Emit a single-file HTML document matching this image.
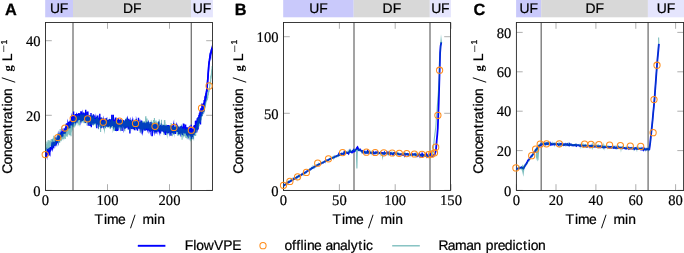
<!DOCTYPE html>
<html><head><meta charset="utf-8"><title>Figure</title>
<style>html,body{margin:0;padding:0;background:#fff}svg{display:block}.s{stroke:#000;stroke-width:.22px}</style></head>
<body>
<svg width="684" height="253" viewBox="0 0 684 253">
<rect width="684" height="253" fill="#fff"/>
<g text-rendering="geometricPrecision">
<defs>
<clipPath id="cA"><rect x="45.5" y="22.5" width="167" height="168"/></clipPath>
</defs>
<rect x="45.2" y="0" width="27.799999999999997" height="17.3" fill="#c9c9fb"/>
<text class="s" x="50.0 59.8" y="13.2" font-size="13.9" font-family="Liberation Sans, sans-serif" fill="#000">UF</text>
<rect x="73" y="0" width="118" height="17.3" fill="#d8d8d8"/>
<text class="s" x="122.9 133.0" y="13.2" font-size="13.9" font-family="Liberation Sans, sans-serif" fill="#000">DF</text>
<rect x="191" y="0" width="21.900000000000006" height="17.3" fill="#e5e5fd"/>
<text class="s" x="192.8 202.7" y="13.2" font-size="13.9" font-family="Liberation Sans, sans-serif" fill="#000">UF</text>
<text x="4.9" y="15" font-size="16.3" font-weight="bold" font-family="Liberation Sans, sans-serif" fill="#000" stroke="#000" stroke-width="0.3">A</text>
<path d="M45.5 190.5v-6.3M45.5 22.5v6.3" stroke="#8c8c8c" stroke-width="0.7" fill="none"/>
<text x="45.5" y="205" font-size="14.6" text-anchor="middle" font-family="Liberation Serif, serif" fill="#000" stroke="#000" stroke-width="0.2">0</text>
<path d="M107.5 190.5v-6.3M107.5 22.5v6.3" stroke="#8c8c8c" stroke-width="0.7" fill="none"/>
<text x="107.5" y="205" font-size="14.6" text-anchor="middle" font-family="Liberation Serif, serif" fill="#000" stroke="#000" stroke-width="0.2">100</text>
<path d="M169.5 190.5v-6.3M169.5 22.5v6.3" stroke="#8c8c8c" stroke-width="0.7" fill="none"/>
<text x="169.5" y="205" font-size="14.6" text-anchor="middle" font-family="Liberation Serif, serif" fill="#000" stroke="#000" stroke-width="0.2">200</text>
<path d="M45.5 190.4h6.3M212.5 190.4h-6.3" stroke="#8c8c8c" stroke-width="0.7" fill="none"/>
<text x="40.5" y="195.6" font-size="14.6" text-anchor="end" font-family="Liberation Serif, serif" fill="#000" stroke="#000" stroke-width="0.2">0</text>
<path d="M45.5 115.3h6.3M212.5 115.3h-6.3" stroke="#8c8c8c" stroke-width="0.7" fill="none"/>
<text x="40.5" y="120.5" font-size="14.6" text-anchor="end" font-family="Liberation Serif, serif" fill="#000" stroke="#000" stroke-width="0.2">20</text>
<path d="M45.5 40.7h6.3M212.5 40.7h-6.3" stroke="#8c8c8c" stroke-width="0.7" fill="none"/>
<text x="40.5" y="45.9" font-size="14.6" text-anchor="end" font-family="Liberation Serif, serif" fill="#000" stroke="#000" stroke-width="0.2">40</text>
<path d="M73 22.5V190.5" stroke="#727272" stroke-width="1.3" fill="none"/>
<path d="M191.3 22.5V190.5" stroke="#727272" stroke-width="1.3" fill="none"/>
<rect x="45.5" y="22.5" width="167.0" height="168.0" fill="none" stroke="#262626" stroke-width="0.9"/>
<g font-family="Liberation Sans, sans-serif" font-size="13.9" fill="#000"><text class="s" x="94.5 103.9 107.1 118.0" y="224.4">Time</text><text x="130.1" y="227.6" font-size="20" font-family="Liberation Serif, serif">/</text><text class="s" x="142.4 154.1 157.3" y="224.4">min</text></g>
<g transform="translate(12.4,0) rotate(-90)" font-family="Liberation Sans, sans-serif" font-size="13.9" fill="#000"><text class="s" x="-173.8 -164.4 -157.0 -149.6 -143.6 -136.6 -128.3 -123.6 -119.2 -111.2 -106.4 -103.4 -96.0" y="0">Concentration</text><text x="-82.7" y="2.9" font-size="20" font-family="Liberation Serif, serif">/</text><text x="-71.4" y="-0.3" font-size="12.6" font-weight="bold" font-family="Liberation Serif, serif">g</text><text class="s" x="-61.3" y="0">L</text><text x="-52.7" y="-5.5" font-size="9.6" textLength="7.8" lengthAdjust="spacingAndGlyphs">−</text><text x="-44.4" y="-5.9" font-size="8.6" stroke="#000" stroke-width="0.25">1</text></g>
<g clip-path="url(#cA)">
<polyline points="45.3,156.5 45.4,155.2 45.5,153.2 45.5,153.5 45.6,151.1 45.7,154.5 45.8,157.1 45.9,152.3 45.9,153.7 46.0,155.9 46.1,152.6 46.2,153.8 46.3,153.7 46.4,153.4 46.4,154.3 46.5,153.2 46.6,152.5 46.7,151.4 46.8,154.5 46.8,153.8 46.9,154.4 47.0,153.0 47.1,153.5 47.2,154.2 47.2,151.2 47.3,151.5 47.4,149.0 47.5,151.3 47.6,153.1 47.6,151.1 47.7,149.9 47.8,150.9 47.9,152.6 48.0,149.7 48.1,153.8 48.1,150.0 48.2,153.4 48.3,150.5 48.4,149.4 48.5,151.5 48.5,149.3 48.6,149.4 48.7,151.7 48.8,153.3 48.9,149.9 48.9,149.3 49.0,155.7 49.1,150.5 49.2,150.6 49.3,151.8 49.4,148.7 49.4,149.1 49.5,152.0 49.6,151.2 49.7,148.3 49.8,147.8 49.8,151.8 49.9,152.2 50.0,148.6 50.1,150.1 50.2,150.2 50.2,147.6 50.3,150.8 50.4,147.1 50.5,148.5 50.6,147.5 50.6,150.3 50.7,150.3 50.8,150.2 50.9,147.3 51.0,149.9 51.0,147.5 51.1,149.4 51.2,147.1 51.3,146.7 51.4,147.2 51.4,148.2 51.5,147.3 51.6,148.0 51.7,145.4 51.8,147.9 51.8,146.0 51.9,145.3 52.0,145.8 52.1,147.6 52.2,147.9 52.2,146.8 52.3,145.9 52.4,147.1 52.5,148.0 52.6,149.0 52.6,146.5 52.7,147.3 52.8,142.3 52.9,147.5 53.0,145.2 53.0,147.6 53.1,145.3 53.2,145.9 53.3,145.4 53.4,145.6 53.4,143.8 53.5,143.2 53.6,141.8 53.7,144.9 53.8,142.8 53.8,144.1 53.9,145.0 54.0,144.8 54.1,142.5 54.2,143.8 54.2,143.9 54.3,144.6 54.4,142.0 54.5,144.9 54.6,144.8 54.6,142.9 54.7,142.1 54.8,145.4 54.9,143.4 55.0,142.1 55.0,142.2 55.1,143.4 55.2,142.8 55.3,144.2 55.4,144.3 55.4,141.5 55.5,141.1 55.6,142.0 55.7,140.8 55.8,141.2 55.8,141.7 55.9,140.5 56.0,140.0 56.1,140.1 56.2,141.2 56.2,142.1 56.3,144.0 56.4,141.9 56.5,142.5 56.6,141.9 56.6,140.6 56.7,142.1 56.8,140.9 56.9,139.6 57.0,138.8 57.0,140.2 57.1,140.5 57.2,139.5 57.3,141.1 57.4,138.3 57.4,140.8 57.5,140.1 57.6,139.2 57.7,140.1 57.8,140.5 57.8,139.6 57.9,139.8 58.0,139.6 58.1,139.9 58.2,140.6 58.2,136.1 58.3,138.5 58.4,137.5 58.5,136.8 58.6,140.5 58.6,140.1 58.7,136.3 58.8,135.6 58.9,136.4 59.0,137.0 59.0,141.0 59.1,138.9 59.2,135.9 59.3,137.5 59.4,136.4 59.4,136.2 59.5,137.6 59.6,137.0 59.7,137.1 59.8,137.2 59.9,136.9 59.9,136.4 60.0,136.1 60.1,135.3 60.2,135.8 60.3,136.6 60.3,134.1 60.4,137.7 60.5,135.4 60.6,134.5 60.7,136.9 60.7,134.7 60.8,133.4 60.9,137.3 61.0,136.6 61.1,134.7 61.1,134.6 61.2,132.6 61.3,131.7 61.4,136.2 61.5,136.9 61.5,134.0 61.6,134.0 61.7,133.8 61.8,132.8 61.9,134.3 61.9,134.4 62.0,132.4 62.1,133.0 62.2,132.6 62.3,134.7 62.3,133.7 62.4,130.0 62.5,132.6 62.6,133.3 62.7,132.7 62.7,132.1 62.8,136.6 62.9,131.3 63.0,132.3 63.1,133.2 63.1,130.5 63.2,132.0 63.3,133.6 63.4,133.5 63.5,130.4 63.6,133.0 63.6,131.0 63.7,130.3 63.8,134.0 63.9,130.5 64.0,132.2 64.0,130.4 64.1,131.4 64.2,128.3 64.3,129.4 64.4,131.7 64.4,129.6 64.5,130.1 64.6,129.4 64.7,131.7 64.8,131.9 64.8,131.7 64.9,129.2 65.0,132.4 65.1,130.3 65.2,129.7 65.2,131.5 65.3,130.5 65.4,128.5 65.5,130.7 65.6,126.7 65.6,127.7 65.7,128.9 65.8,129.4 65.9,128.5 66.0,130.4 66.0,127.2 66.1,127.5 66.2,128.2 66.3,127.9 66.4,129.3 66.5,126.5 66.5,128.9 66.6,128.6 66.7,123.2 66.8,127.6 66.9,125.6 66.9,129.4 67.0,127.4 67.1,128.3 67.2,125.3 67.3,128.6 67.3,126.7 67.4,126.0 67.5,125.7 67.6,128.0 67.7,127.1 67.7,125.8 67.8,124.8 67.9,123.5 68.0,124.0 68.1,125.0 68.1,125.7 68.2,123.3 68.3,127.8 68.4,126.2 68.5,126.6 68.5,128.8 68.6,122.7 68.7,123.4 68.8,123.0 68.9,122.1 69.0,126.8 69.0,124.4 69.1,123.9 69.2,123.7 69.3,121.9 69.4,124.0 69.4,123.6 69.5,122.3 69.6,122.3 69.7,124.6 69.8,122.4 69.8,128.2 69.9,123.4 70.0,122.3 70.1,125.5 70.2,120.5 70.2,124.3 70.3,121.5 70.4,121.5 70.5,123.0 70.6,121.6 70.6,120.9 70.7,120.3 70.8,123.6 70.9,122.6 71.0,122.5 71.1,123.9 71.1,122.6 71.2,125.5 71.3,123.9 71.4,123.0 71.5,120.3 71.5,121.6 71.6,118.6 71.7,117.5 71.8,118.0 71.9,119.9 71.9,117.8 72.0,119.1 72.1,123.5 72.2,119.9 72.3,121.0 72.4,120.1 72.4,119.0 72.5,115.8 72.6,117.0 72.7,124.1 72.8,120.7 72.8,122.3 72.9,116.9 73.0,121.6 73.1,121.2 73.2,121.3 73.2,118.0 73.3,120.9 73.4,120.8 73.5,122.0 73.6,111.5 73.6,122.5 73.7,121.7 73.8,121.4 73.9,117.8 74.0,119.7 74.1,119.1 74.1,117.6 74.2,119.1 74.3,116.1 74.4,116.4 74.5,118.2 74.5,119.9 74.6,119.9 74.7,117.2 74.8,120.8 74.9,121.1 74.9,116.7 75.0,121.0 75.1,118.3 75.2,118.5 75.3,116.6 75.4,116.5 75.4,116.3 75.5,121.7 75.6,113.9 75.7,117.0 75.8,123.1 75.8,120.0 75.9,119.5 76.0,117.4 76.1,114.7 76.2,115.8 76.2,116.1 76.3,115.5 76.4,114.6 76.5,117.4 76.6,119.0 76.6,120.5 76.7,120.3 76.8,116.8 76.9,117.2 77.0,118.8 77.1,114.4 77.1,118.4 77.2,118.8 77.3,114.6 77.4,114.7 77.5,115.6 77.5,117.0 77.6,120.8 77.7,114.5 77.8,120.5 77.9,118.4 77.9,113.9 78.0,116.4 78.1,117.6 78.2,114.4 78.3,116.2 78.4,116.2 78.4,116.5 78.5,119.8 78.6,119.1 78.7,114.8 78.8,113.1 78.8,118.2 78.9,115.5 79.0,118.3 79.1,114.0 79.2,115.9 79.2,113.2 79.3,119.9 79.4,113.3 79.5,116.6 79.6,118.6 79.6,114.7 79.7,116.1 79.8,115.1 79.9,113.9 80.0,116.1 80.0,114.4 80.1,119.6 80.2,119.0 80.3,119.8 80.4,116.3 80.5,115.7 80.5,119.4 80.6,117.8 80.7,118.9 80.8,118.6 80.9,111.2 80.9,114.9 81.0,118.1 81.1,120.1 81.2,119.6 81.3,111.6 81.3,114.2 81.4,114.3 81.5,120.5 81.6,114.0 81.7,117.8 81.7,118.1 81.8,114.5 81.9,115.8 82.0,119.1 82.1,118.5 82.1,116.1 82.2,113.4 82.3,115.9 82.4,115.7 82.5,121.0 82.5,114.0 82.6,118.7 82.7,116.8 82.8,120.7 82.9,116.0 83.0,115.3 83.0,115.0 83.1,115.4 83.2,118.9 83.3,116.9 83.4,118.8 83.4,115.6 83.5,118.4 83.6,113.5 83.7,112.6 83.8,113.9 83.8,119.3 83.9,119.3 84.0,117.9 84.1,118.5 84.2,120.0 84.2,119.2 84.3,117.5 84.4,118.4 84.5,115.3 84.6,118.4 84.6,113.6 84.7,118.3 84.8,113.2 84.9,119.4 85.0,115.0 85.0,118.4 85.1,114.7 85.2,113.7 85.3,123.1 85.4,114.4 85.4,115.4 85.5,116.5 85.6,115.7 85.7,109.7 85.8,116.2 85.8,114.9 85.9,117.7 86.0,115.3 86.1,118.1 86.2,117.2 86.2,116.8 86.3,115.5 86.4,116.4 86.5,121.6 86.6,116.6 86.6,116.6 86.7,119.3 86.8,114.3 86.9,120.8 87.0,115.2 87.0,117.6 87.1,120.8 87.2,111.8 87.3,115.5 87.4,121.2 87.4,118.5 87.5,121.1 87.6,111.5 87.7,119.7 87.8,117.3 87.8,116.1 87.9,117.6 88.0,117.1 88.1,121.6 88.2,118.6 88.2,125.7 88.3,121.3 88.4,118.8 88.5,122.6 88.6,120.7 88.6,117.4 88.7,119.3 88.8,118.9 88.9,115.5 89.0,116.1 89.0,119.5 89.1,119.0 89.2,117.8 89.3,122.1 89.4,122.0 89.4,120.0 89.5,116.1 89.6,120.8 89.7,119.4 89.8,115.3 89.8,116.8 89.9,126.0 90.0,117.2 90.1,121.8 90.2,115.8 90.2,121.0 90.3,120.8 90.4,121.6 90.5,120.2 90.6,117.3 90.6,116.5 90.7,117.8 90.8,118.1 90.9,115.8 91.0,120.5 91.0,113.0 91.1,124.1 91.2,121.3 91.3,127.2 91.4,122.5 91.4,121.3 91.5,121.0 91.6,117.0 91.7,122.0 91.8,119.8 91.8,120.0 91.9,116.1 92.0,121.3 92.1,121.5 92.2,120.8 92.2,122.3 92.3,115.5 92.4,118.6 92.5,119.2 92.6,116.7 92.6,117.4 92.7,118.9 92.8,122.8 92.9,118.5 93.0,124.7 93.0,117.5 93.1,121.3 93.2,120.5 93.3,122.2 93.4,114.3 93.4,117.2 93.5,120.7 93.6,114.7 93.7,122.8 93.8,122.2 93.8,120.2 93.9,117.8 94.0,120.6 94.1,122.2 94.2,115.5 94.2,118.2 94.3,123.0 94.4,119.5 94.5,123.8 94.6,121.1 94.6,123.8 94.7,121.7 94.8,121.3 94.9,120.1 95.0,123.4 95.1,118.1 95.1,123.2 95.2,121.5 95.3,119.1 95.4,118.9 95.5,123.1 95.5,120.7 95.6,119.9 95.7,121.2 95.8,118.0 95.9,117.0 95.9,123.2 96.0,119.8 96.1,117.7 96.2,123.1 96.3,120.3 96.3,118.1 96.4,119.7 96.5,119.3 96.6,122.3 96.7,122.4 96.7,121.9 96.8,128.3 96.9,122.2 97.0,121.0 97.1,123.5 97.1,120.0 97.2,122.4 97.3,120.7 97.4,123.4 97.5,118.2 97.5,116.3 97.6,123.5 97.7,120.3 97.8,115.4 97.9,123.8 97.9,122.1 98.0,122.5 98.1,119.7 98.2,122.1 98.3,117.9 98.3,122.2 98.4,123.9 98.5,124.9 98.6,121.7 98.7,124.4 98.7,122.4 98.8,124.4 98.9,123.9 99.0,121.6 99.1,119.5 99.1,121.1 99.2,123.0 99.3,120.3 99.4,117.6 99.5,120.6 99.5,119.9 99.6,122.6 99.7,119.0 99.8,113.8 99.9,122.3 99.9,119.5 100.0,123.3 100.1,119.3 100.2,122.6 100.3,121.3 100.4,122.5 100.4,119.7 100.5,125.2 100.6,123.7 100.7,123.2 100.8,119.9 100.8,123.6 100.9,122.3 101.0,122.5 101.1,128.3 101.2,123.5 101.2,117.5 101.3,121.6 101.4,123.1 101.5,119.5 101.6,124.9 101.6,122.3 101.7,122.0 101.8,119.8 101.9,122.5 102.0,125.7 102.0,124.8 102.1,125.4 102.2,121.1 102.3,121.1 102.4,123.1 102.4,122.1 102.5,119.1 102.6,120.1 102.7,120.1 102.8,119.8 102.8,125.9 102.9,119.8 103.0,123.8 103.1,118.1 103.2,127.4 103.2,120.6 103.3,119.6 103.4,121.4 103.5,122.3 103.6,124.1 103.6,121.7 103.7,122.6 103.8,123.1 103.9,122.1 104.0,121.1 104.0,125.1 104.1,124.8 104.2,122.2 104.3,126.4 104.4,124.7 104.4,118.7 104.5,120.3 104.6,125.3 104.7,121.1 104.8,123.1 104.8,121.1 104.9,121.9 105.0,118.7 105.1,125.7 105.2,121.4 105.2,121.2 105.3,123.0 105.4,123.0 105.5,124.7 105.6,123.3 105.6,120.7 105.7,122.7 105.8,122.4 105.9,126.2 106.0,119.4 106.0,118.3 106.1,125.4 106.2,125.2 106.3,123.1 106.4,121.0 106.4,125.2 106.5,119.7 106.6,119.5 106.7,122.8 106.8,124.8 106.8,122.3 106.9,121.6 107.0,125.2 107.1,126.3 107.2,120.1 107.2,126.0 107.3,122.4 107.4,126.4 107.5,125.8 107.6,120.4 107.7,122.4 107.7,124.2 107.8,125.9 107.9,123.7 108.0,121.1 108.1,126.4 108.1,126.9 108.2,123.2 108.3,120.7 108.4,125.2 108.5,121.8 108.5,119.8 108.6,120.7 108.7,121.4 108.8,123.0 108.9,120.6 108.9,121.2 109.0,121.7 109.1,123.2 109.2,120.7 109.3,122.5 109.3,122.6 109.4,118.9 109.5,126.3 109.6,125.0 109.7,124.8 109.7,120.8 109.8,119.1 109.9,124.2 110.0,124.8 110.1,125.1 110.1,120.5 110.2,123.7 110.3,119.6 110.4,124.3 110.5,123.1 110.5,121.0 110.6,120.4 110.7,124.5 110.8,120.3 110.9,121.1 110.9,122.8 111.0,125.2 111.1,126.9 111.2,120.5 111.3,121.1 111.3,123.5 111.4,125.2 111.5,119.8 111.6,125.2 111.7,123.3 111.7,122.2 111.8,114.7 111.9,119.2 112.0,121.0 112.1,120.7 112.1,122.2 112.2,125.3 112.3,123.6 112.4,124.7 112.5,126.0 112.5,124.3 112.6,123.6 112.7,120.5 112.8,122.5 112.9,120.4 112.9,119.8 113.0,122.1 113.1,120.3 113.2,125.2 113.3,125.5 113.3,114.7 113.4,121.3 113.5,122.8 113.6,125.8 113.7,121.7 113.7,123.3 113.8,124.1 113.9,124.5 114.0,126.6 114.1,122.1 114.1,126.5 114.2,126.3 114.3,124.7 114.4,124.3 114.5,120.1 114.5,121.2 114.6,125.9 114.7,123.3 114.8,122.1 114.9,126.4 114.9,122.9 115.0,123.2 115.1,124.3 115.2,124.8 115.3,124.2 115.3,122.8 115.4,117.6 115.5,125.3 115.6,131.1 115.7,120.0 115.8,126.0 115.8,120.1 115.9,119.9 116.0,126.3 116.1,123.7 116.2,122.9 116.2,120.5 116.3,122.4 116.4,119.6 116.5,126.2 116.6,121.3 116.6,122.0 116.7,121.0 116.8,121.0 116.9,125.8 117.0,125.3 117.0,122.8 117.1,120.6 117.2,123.2 117.3,121.7 117.4,131.0 117.4,125.7 117.5,120.9 117.6,119.7 117.7,125.1 117.8,125.2 117.8,127.2 117.9,123.0 118.0,130.6 118.1,122.3 118.2,120.4 118.2,121.1 118.3,117.9 118.4,121.1 118.5,121.4 118.6,124.1 118.6,121.9 118.7,122.8 118.8,123.3 118.9,123.8 119.0,126.0 119.0,122.6 119.1,123.4 119.2,123.0 119.3,124.2 119.4,119.7 119.4,122.1 119.5,126.4 119.6,124.0 119.7,122.2 119.8,126.0 119.8,124.6 119.9,125.2 120.0,124.5 120.1,125.2 120.2,124.0 120.2,121.7 120.3,123.2 120.4,123.7 120.5,123.4 120.6,125.8 120.6,123.6 120.7,123.7 120.8,119.2 120.9,121.1 121.0,126.0 121.0,123.8 121.1,125.3 121.2,119.7 121.3,126.7 121.4,124.5 121.4,121.0 121.5,127.4 121.6,126.7 121.7,122.0 121.8,123.7 121.8,122.7 121.9,123.7 122.0,125.6 122.1,131.1 122.2,122.7 122.2,123.4 122.3,124.4 122.4,126.6 122.5,123.4 122.6,125.6 122.6,123.7 122.7,124.3 122.8,121.0 122.9,125.1 123.0,121.2 123.0,121.3 123.1,119.9 123.2,125.2 123.3,123.3 123.4,123.2 123.4,122.6 123.5,122.3 123.6,122.5 123.7,125.1 123.8,120.3 123.8,127.6 123.9,122.5 124.0,123.9 124.1,127.3 124.2,126.8 124.2,124.1 124.3,124.2 124.4,122.9 124.5,125.6 124.6,123.3 124.6,121.6 124.7,128.8 124.8,126.1 124.9,124.9 125.0,127.5 125.0,128.2 125.1,126.7 125.2,122.2 125.3,125.5 125.4,121.0 125.4,122.7 125.5,127.2 125.6,128.5 125.7,119.2 125.8,122.7 125.8,120.4 125.9,126.3 126.0,126.9 126.1,126.8 126.2,125.9 126.2,127.8 126.3,125.3 126.4,121.6 126.5,127.6 126.6,124.9 126.6,122.7 126.7,122.7 126.8,122.1 126.9,124.9 127.0,124.8 127.0,120.2 127.1,121.2 127.2,123.0 127.3,125.7 127.4,123.4 127.4,126.9 127.5,127.5 127.6,122.1 127.7,121.3 127.8,122.1 127.8,122.6 127.9,124.7 128.0,121.6 128.1,124.7 128.2,122.5 128.2,120.8 128.3,129.4 128.4,125.1 128.5,126.8 128.6,125.8 128.6,126.1 128.7,126.8 128.8,128.5 128.9,118.8 129.0,124.9 129.0,125.3 129.1,124.1 129.2,127.3 129.3,121.9 129.4,127.1 129.4,126.9 129.5,129.0 129.6,126.3 129.7,127.2 129.8,126.2 129.8,126.8 129.9,133.6 130.0,122.7 130.1,125.6 130.2,125.3 130.2,123.4 130.3,126.2 130.4,120.0 130.5,122.6 130.6,127.1 130.6,122.2 130.7,124.9 130.8,123.7 130.9,126.1 131.0,121.7 131.0,126.8 131.1,122.0 131.2,122.4 131.3,127.8 131.4,125.9 131.4,122.6 131.5,129.0 131.6,127.5 131.7,125.7 131.8,122.9 131.8,127.6 131.9,125.1 132.0,121.3 132.1,125.0 132.2,125.7 132.2,124.5 132.3,122.8 132.4,122.2 132.5,123.8 132.6,123.4 132.6,124.6 132.7,123.5 132.8,126.0 132.9,126.1 133.0,126.6 133.0,129.1 133.1,126.9 133.2,126.0 133.3,123.8 133.4,127.7 133.4,120.8 133.5,128.9 133.6,122.5 133.7,123.8 133.8,128.4 133.8,122.7 133.9,123.2 134.0,123.9 134.1,125.2 134.2,123.2 134.2,124.9 134.3,126.8 134.4,125.9 134.5,130.3 134.6,127.0 134.6,126.1 134.7,127.3 134.8,124.6 134.9,125.9 135.0,125.8 135.0,127.4 135.1,123.3 135.2,123.6 135.3,124.6 135.4,122.5 135.4,121.6 135.5,126.8 135.6,124.2 135.7,127.1 135.8,122.3 135.8,127.3 135.9,127.4 136.0,121.9 136.1,125.1 136.2,124.5 136.2,124.1 136.3,128.0 136.4,127.8 136.5,122.3 136.6,122.8 136.6,126.0 136.7,121.2 136.8,126.1 136.9,123.8 137.0,123.9 137.0,121.2 137.1,121.4 137.2,126.3 137.3,124.8 137.4,124.8 137.4,127.4 137.5,130.8 137.6,124.8 137.7,121.9 137.8,123.6 137.8,125.3 137.9,123.5 138.0,125.5 138.1,127.3 138.2,126.2 138.2,122.7 138.3,123.2 138.4,122.0 138.5,117.7 138.6,128.8 138.6,123.1 138.7,125.7 138.8,128.8 138.9,119.6 139.0,123.4 139.0,123.0 139.1,128.6 139.2,126.6 139.3,124.6 139.4,127.8 139.4,127.0 139.5,122.2 139.6,127.2 139.7,125.3 139.8,122.7 139.8,123.3 139.9,127.4 140.0,127.9 140.1,124.9 140.2,124.5 140.2,126.9 140.3,127.2 140.4,125.6 140.5,128.3 140.6,126.4 140.6,122.8 140.7,125.2 140.8,128.2 140.9,122.5 141.0,129.1 141.1,123.9 141.1,122.8 141.2,128.8 141.3,126.4 141.4,125.5 141.5,120.5 141.5,125.1 141.6,128.3 141.7,128.9 141.8,126.8 141.9,125.4 141.9,126.0 142.0,122.8 142.1,128.1 142.2,127.6 142.3,125.7 142.3,127.4 142.4,128.2 142.5,124.4 142.6,124.7 142.7,124.5 142.7,124.2 142.8,125.0 142.9,129.9 143.0,129.4 143.1,126.9 143.1,124.6 143.2,129.5 143.3,128.0 143.4,128.1 143.5,124.9 143.5,122.4 143.6,126.1 143.7,125.1 143.8,127.7 143.9,124.9 143.9,127.8 144.0,123.2 144.1,128.5 144.2,124.6 144.3,124.4 144.3,129.2 144.4,126.5 144.5,125.6 144.6,125.6 144.7,130.0 144.7,123.3 144.8,124.3 144.9,130.7 145.0,129.5 145.1,128.7 145.1,128.1 145.2,129.9 145.3,129.1 145.4,130.2 145.5,126.5 145.5,123.3 145.6,125.4 145.7,124.1 145.8,126.4 145.9,126.1 145.9,130.2 146.0,125.2 146.1,127.4 146.2,122.6 146.3,126.5 146.3,126.2 146.4,124.9 146.5,124.4 146.6,123.8 146.7,128.6 146.7,130.3 146.8,126.9 146.9,123.5 147.0,129.9 147.1,126.3 147.1,129.0 147.2,122.7 147.3,122.8 147.4,128.1 147.5,127.5 147.5,124.7 147.6,128.1 147.7,129.9 147.8,130.2 147.9,128.1 147.9,128.4 148.0,126.1 148.1,124.9 148.2,127.6 148.3,128.4 148.3,130.2 148.4,125.5 148.5,125.7 148.6,123.3 148.7,123.6 148.7,124.5 148.8,129.3 148.9,122.2 149.0,129.8 149.1,128.0 149.1,127.0 149.2,129.8 149.3,130.0 149.4,123.8 149.5,130.9 149.5,125.4 149.6,128.0 149.7,124.4 149.8,130.1 149.9,130.5 149.9,127.2 150.0,124.9 150.1,127.2 150.2,127.9 150.3,128.4 150.4,128.4 150.4,128.9 150.5,126.6 150.6,130.6 150.7,130.4 150.8,127.9 150.8,124.7 150.9,122.1 151.0,124.6 151.1,130.0 151.2,126.1 151.2,124.1 151.3,130.3 151.4,127.7 151.5,124.5 151.6,125.9 151.6,130.9 151.7,128.0 151.8,129.1 151.9,124.7 152.0,123.5 152.0,136.2 152.1,130.1 152.2,126.7 152.3,128.1 152.4,125.7 152.4,126.2 152.5,131.2 152.6,130.1 152.7,130.8 152.8,129.7 152.8,125.1 152.9,128.0 153.0,127.9 153.1,131.0 153.2,125.2 153.2,124.6 153.3,125.4 153.4,129.2 153.5,125.2 153.6,126.6 153.6,128.1 153.7,129.5 153.8,124.9 153.9,126.3 154.0,129.2 154.0,124.3 154.1,129.2 154.2,129.8 154.3,127.7 154.4,129.0 154.4,129.7 154.5,125.6 154.6,125.6 154.7,131.9 154.8,125.0 154.8,128.6 154.9,129.9 155.0,124.6 155.1,124.8 155.2,130.8 155.2,123.4 155.3,125.6 155.4,125.8 155.5,126.1 155.6,131.2 155.6,128.2 155.7,123.4 155.8,125.9 155.9,126.6 156.0,133.4 156.0,125.1 156.1,127.0 156.2,131.0 156.3,124.5 156.4,130.3 156.4,130.6 156.5,126.6 156.6,127.4 156.7,127.6 156.8,130.7 156.8,129.7 156.9,129.6 157.0,128.0 157.1,130.9 157.2,130.8 157.2,126.9 157.3,131.1 157.4,123.9 157.5,127.8 157.6,130.2 157.6,127.4 157.7,128.5 157.8,127.5 157.9,126.9 158.0,127.3 158.0,129.6 158.1,126.9 158.2,129.2 158.3,128.7 158.4,125.5 158.4,126.1 158.5,126.5 158.6,124.3 158.7,122.6 158.8,130.0 158.8,121.5 158.9,131.5 159.0,129.6 159.1,125.8 159.2,126.4 159.2,128.0 159.3,131.4 159.4,130.8 159.5,131.2 159.6,126.7 159.6,129.2 159.7,127.5 159.8,129.1 159.9,128.3 160.0,126.4 160.1,130.9 160.1,129.8 160.2,129.4 160.3,129.3 160.4,129.6 160.5,129.6 160.5,133.4 160.6,126.2 160.7,124.9 160.8,129.8 160.9,127.8 160.9,129.6 161.0,127.0 161.1,126.6 161.2,127.8 161.3,127.8 161.3,130.4 161.4,130.3 161.5,127.7 161.6,129.4 161.7,131.4 161.7,126.5 161.8,130.8 161.9,129.1 162.0,130.3 162.1,130.8 162.1,128.8 162.2,128.3 162.3,127.0 162.4,125.8 162.5,127.7 162.5,127.3 162.6,131.0 162.7,127.1 162.8,130.4 162.9,128.0 162.9,128.6 163.0,126.5 163.1,125.1 163.2,128.0 163.3,130.3 163.3,132.1 163.4,125.3 163.5,128.3 163.6,131.5 163.7,128.5 163.7,125.9 163.8,128.9 163.9,125.6 164.0,127.0 164.1,128.9 164.1,132.7 164.2,126.6 164.3,125.8 164.4,130.4 164.5,129.2 164.5,130.9 164.6,131.4 164.7,130.7 164.8,127.7 164.9,130.6 164.9,125.2 165.0,128.5 165.1,129.3 165.2,129.1 165.3,127.6 165.3,131.9 165.4,131.9 165.5,126.5 165.6,126.6 165.7,135.0 165.7,125.7 165.8,129.8 165.9,131.5 166.0,128.7 166.1,129.8 166.1,130.2 166.2,128.9 166.3,127.4 166.4,132.5 166.5,130.9 166.5,128.8 166.6,128.1 166.7,132.8 166.8,128.8 166.9,126.5 166.9,125.2 167.0,128.8 167.1,130.5 167.2,127.3 167.3,131.3 167.3,130.5 167.4,130.5 167.5,132.0 167.6,133.4 167.7,128.6 167.7,125.7 167.8,126.8 167.9,129.2 168.0,125.1 168.1,129.8 168.1,128.2 168.2,129.2 168.3,130.1 168.4,133.2 168.5,125.0 168.5,128.5 168.6,125.6 168.7,130.1 168.8,131.9 168.9,129.3 168.9,131.2 169.0,127.0 169.1,127.1 169.2,132.4 169.3,130.9 169.4,131.7 169.4,130.6 169.5,132.3 169.6,130.0 169.7,129.6 169.8,125.6 169.8,126.5 169.9,127.8 170.0,131.8 170.1,131.4 170.2,126.7 170.2,127.7 170.3,132.7 170.4,129.4 170.5,130.1 170.6,127.9 170.6,129.9 170.7,125.9 170.8,128.4 170.9,127.1 171.0,135.7 171.0,125.6 171.1,128.7 171.2,127.8 171.3,130.8 171.4,126.0 171.4,128.8 171.5,128.9 171.6,127.2 171.7,131.0 171.8,131.7 171.8,126.5 171.9,127.6 172.0,127.0 172.1,129.9 172.2,127.1 172.2,127.8 172.3,128.5 172.4,130.5 172.5,132.1 172.6,133.0 172.6,125.6 172.7,129.4 172.8,132.3 172.9,131.7 173.0,130.3 173.0,125.3 173.1,133.2 173.2,129.7 173.3,127.8 173.4,127.9 173.4,126.2 173.5,125.7 173.6,131.2 173.7,123.0 173.8,133.8 173.8,132.5 173.9,131.5 174.0,132.1 174.1,129.0 174.2,127.4 174.2,127.1 174.3,128.5 174.4,131.2 174.5,130.9 174.6,129.4 174.6,127.1 174.7,129.8 174.8,126.8 174.9,128.5 175.0,131.2 175.0,130.9 175.1,128.3 175.2,129.9 175.3,130.9 175.4,133.9 175.4,131.5 175.5,127.1 175.6,131.9 175.7,128.4 175.8,128.3 175.8,128.9 175.9,131.5 176.0,129.3 176.1,127.7 176.2,128.5 176.2,126.6 176.3,129.2 176.4,128.4 176.5,130.5 176.6,130.5 176.6,123.8 176.7,128.7 176.8,127.9 176.9,125.3 177.0,129.2 177.0,127.3 177.1,127.7 177.2,129.7 177.3,128.2 177.4,129.7 177.4,127.7 177.5,132.0 177.6,130.9 177.7,130.2 177.8,126.8 177.8,127.2 177.9,130.0 178.0,128.8 178.1,129.2 178.2,127.7 178.2,128.3 178.3,131.2 178.4,126.8 178.5,129.7 178.6,129.1 178.6,134.6 178.7,130.6 178.8,127.3 178.9,129.8 179.0,129.7 179.0,130.8 179.1,129.7 179.2,131.5 179.3,134.0 179.4,132.6 179.4,129.5 179.5,130.9 179.6,127.6 179.7,129.8 179.8,128.3 179.8,130.3 179.9,132.0 180.0,131.8 180.1,132.9 180.2,127.4 180.2,129.9 180.3,133.6 180.4,126.2 180.5,129.1 180.6,127.4 180.6,133.3 180.7,132.5 180.8,133.4 180.9,131.7 181.0,130.6 181.0,133.1 181.1,132.8 181.2,128.3 181.3,131.4 181.4,129.8 181.4,130.0 181.5,126.7 181.6,125.7 181.7,132.0 181.8,131.0 181.8,131.2 181.9,127.8 182.0,126.7 182.1,130.5 182.2,128.2 182.2,126.7 182.3,130.1 182.4,131.7 182.5,133.4 182.6,131.7 182.6,134.9 182.7,131.5 182.8,131.9 182.9,128.7 183.0,129.8 183.0,127.0 183.1,129.0 183.2,131.1 183.3,128.1 183.4,129.0 183.4,123.6 183.5,130.6 183.6,132.6 183.7,126.8 183.8,128.9 183.8,125.7 183.9,129.0 184.0,123.8 184.1,127.0 184.2,129.0 184.2,127.9 184.3,129.7 184.4,132.3 184.5,133.2 184.6,130.9 184.6,128.3 184.7,133.5 184.8,131.6 184.9,132.3 185.0,127.5 185.0,129.2 185.1,131.5 185.2,129.1 185.3,129.9 185.4,133.1 185.4,130.9 185.5,127.1 185.6,124.6 185.7,129.1 185.8,130.2 185.8,133.6 185.9,131.4 186.0,127.7 186.1,127.8 186.2,128.1 186.2,129.5 186.3,129.3 186.4,130.6 186.5,129.3 186.6,135.6 186.6,129.2 186.7,127.9 186.8,128.9 186.9,130.9 187.0,133.6 187.0,135.3 187.1,133.3 187.2,127.2 187.3,131.7 187.4,131.1 187.4,132.0 187.5,129.1 187.6,132.9 187.7,131.4 187.8,129.0 187.8,135.0 187.9,134.9 188.0,135.3 188.1,133.2 188.2,128.3 188.2,127.7 188.3,128.4 188.4,127.5 188.5,130.4 188.6,130.5 188.6,132.5 188.7,130.8 188.8,130.4 188.9,134.3 189.0,133.7 189.0,135.3 189.1,133.9 189.2,131.0 189.3,134.1 189.4,126.5 189.4,132.3 189.5,130.2 189.6,130.5 189.7,128.0 189.8,128.2 189.8,132.0 189.9,130.0 190.0,132.1 190.1,129.3 190.2,136.5 190.2,128.9 190.3,133.6 190.4,131.9 190.5,129.5 190.6,129.0 190.6,131.6 190.7,134.7 190.8,133.8 190.9,128.1 191.0,133.2 191.0,134.6 191.1,132.6 191.2,124.7 191.3,132.1 191.4,130.6 191.4,132.2 191.5,139.0 191.6,128.2 191.7,130.7 191.8,131.3 191.8,128.6 191.9,130.6 192.0,130.5 192.1,137.1 192.2,128.8 192.2,132.7 192.3,131.1 192.4,133.6 192.5,130.7 192.6,128.4 192.6,132.6 192.7,133.1 192.8,133.6 192.9,129.2 193.0,133.1 193.0,129.2 193.1,131.8 193.2,132.9 193.3,128.3 193.4,128.9 193.4,130.6 193.5,130.0 193.6,126.2 193.7,135.1 193.8,130.9 193.8,127.3 193.9,129.4 194.0,132.4 194.1,132.6 194.2,128.8 194.2,125.8 194.3,125.1 194.4,129.0 194.5,127.7 194.6,132.9 194.6,125.4 194.7,126.3 194.8,128.7 194.9,126.7 195.0,129.9 195.0,130.3 195.1,127.4 195.2,130.2 195.3,126.7 195.4,128.7 195.4,124.4 195.5,120.7 195.6,127.8 195.7,128.0 195.8,123.1 195.8,131.1 195.9,132.7 196.0,122.5 196.1,121.7 196.2,125.7 196.2,120.6 196.3,127.6 196.4,125.2 196.5,122.5 196.6,127.0 196.6,128.4 196.7,122.8 196.8,124.7 196.9,129.7 197.0,123.7 197.0,127.5 197.1,122.9 197.2,118.2 197.3,126.0 197.4,122.2 197.4,120.3 197.5,126.5 197.6,127.4 197.7,126.6 197.8,127.6 197.8,120.5 197.9,118.6 198.0,117.3 198.1,129.5 198.2,118.6 198.2,125.0 198.3,119.2 198.4,121.0 198.5,123.7 198.6,116.9 198.6,119.5 198.7,117.3 198.8,118.9 198.9,115.0 199.0,123.5 199.0,118.0 199.1,115.0 199.2,117.3 199.3,120.7 199.4,123.0 199.4,113.3 199.5,121.7 199.6,114.7 199.7,120.1 199.8,118.6 199.8,121.2 199.9,116.3 200.0,112.0 200.1,111.7 200.2,119.3 200.2,111.7 200.3,113.2 200.4,115.0 200.5,124.4 200.6,119.1 200.6,117.1 200.7,111.7 200.8,113.3 200.9,112.8 201.0,117.2 201.0,108.0 201.1,109.6 201.2,111.2 201.3,115.3 201.4,109.6 201.5,108.8 201.5,111.1 201.6,116.0 201.7,113.8 201.8,116.1 201.9,103.5 201.9,107.7 202.0,111.0 202.1,107.4 202.2,108.1 202.3,110.8 202.3,113.2 202.4,110.0 202.5,109.2 202.6,104.3 202.7,113.8 202.8,107.0 202.8,111.9 202.9,107.0 203.0,108.7 203.1,104.1 203.2,108.8 203.2,112.1 203.3,105.6 203.4,111.2 203.5,107.3 203.6,103.3 203.6,103.0 203.7,104.7 203.8,110.8 203.9,104.9 204.0,104.6 204.1,103.8 204.1,104.5 204.2,100.1 204.3,101.2 204.4,106.0 204.5,106.8 204.6,105.9 204.6,102.5 204.7,101.5 204.8,102.3 204.9,101.7 205.0,96.5 205.1,98.0 205.1,97.6 205.2,101.1 205.3,96.6 205.4,96.4 205.5,99.9 205.6,94.9 205.6,97.4 205.7,95.3 205.8,95.1 205.9,95.8 206.0,96.4 206.1,95.2 206.1,92.9 206.2,93.8 206.3,93.7 206.4,94.1 206.5,92.5 206.6,91.3 206.6,91.6 206.7,90.3 206.8,90.2 206.9,89.1 207.0,87.9 207.1,88.2 207.1,86.2 207.2,85.6 207.3,84.9 207.4,83.8 207.5,82.3 207.6,81.9 207.6,80.4 207.7,80.2 207.8,79.3 207.9,78.0 208.0,76.4 208.1,75.6 208.1,74.3 208.2,73.0 208.3,72.3 208.4,71.0 208.5,69.7 208.6,68.3 208.6,68.1 208.7,66.0 208.8,64.3 208.9,64.2 209.0,64.1 209.1,62.9 209.1,62.2 209.2,61.8 209.3,61.2 209.4,60.9 209.5,60.4 209.6,59.4 209.6,58.8 209.7,58.1 209.8,57.5 209.9,56.9 210.0,56.0 210.1,56.4 210.2,55.6 210.2,55.5 210.3,54.9 210.4,55.0 210.5,54.5 210.6,53.7 210.7,53.6 210.7,53.3 210.8,53.9 210.9,52.4 211.0,52.1 211.1,51.7 211.2,51.3 211.2,50.9 211.3,51.0 211.4,50.4 211.5,50.7 211.6,49.7 211.7,50.2 211.7,50.3 211.8,49.3 211.9,48.7 212.0,48.8 212.1,48.9 212.1,49.1 212.2,48.6 212.3,48.5" fill="none" stroke="#0000ff" stroke-width="1.4" stroke-linejoin="miter" stroke-miterlimit="10"/>
<polyline points="203.4,108 205.3,99 206.8,90 207.9,78 208.8,65 209.9,57 211,52 212.3,48.4" fill="none" stroke="#0000ff" stroke-width="1.7" stroke-linejoin="round"/>
</g>
<g clip-path="url(#cA)">
<polyline points="45.3,151.1 45.4,151.2 45.5,149.2 45.5,149.4 45.6,147.4 45.7,148.9 45.8,150.4 45.9,146.9 46.0,147.4 46.0,145.3 46.1,145.6 46.2,147.2 46.3,147.2 46.4,149.5 46.4,144.5 46.5,149.7 46.6,150.9 46.7,147.1 46.8,145.4 46.9,141.6 46.9,147.5 47.0,149.2 47.1,148.2 47.2,143.8 47.3,148.4 47.3,143.3 47.4,147.2 47.5,144.7 47.6,144.8 47.7,144.8 47.8,145.1 47.8,146.3 47.9,147.4 48.0,147.2 48.1,147.3 48.2,140.0 48.2,145.1 48.3,145.4 48.4,142.5 48.5,147.2 48.6,146.8 48.6,141.6 48.7,142.8 48.8,142.9 48.9,144.0 49.0,145.2 49.0,144.6 49.1,143.6 49.2,148.2 49.3,145.5 49.4,143.9 49.4,150.0 49.5,142.7 49.6,141.2 49.7,142.0 49.8,142.1 49.8,140.3 49.9,145.9 50.0,143.3 50.1,143.6 50.2,143.7 50.2,145.2 50.3,141.0 50.4,141.7 50.5,141.9 50.6,145.0 50.6,144.5 50.7,142.4 50.8,143.8 50.9,145.7 51.0,144.1 51.0,145.3 51.1,143.6 51.2,139.2 51.3,144.2 51.4,141.6 51.4,143.5 51.5,144.6 51.6,145.6 51.7,141.3 51.8,140.0 51.8,143.4 51.9,143.0 52.0,139.0 52.1,141.8 52.2,139.3 52.2,147.9 52.3,142.5 52.4,139.5 52.5,138.8 52.6,143.4 52.6,143.1 52.7,139.2 52.8,145.8 52.9,141.0 53.0,141.0 53.0,144.5 53.1,143.9 53.2,144.9 53.3,139.5 53.4,145.0 53.4,138.4 53.5,138.4 53.6,143.0 53.7,146.0 53.8,142.0 53.8,135.7 53.9,141.6 54.0,144.9 54.1,141.1 54.2,142.3 54.2,143.0 54.3,139.8 54.4,142.5 54.5,138.7 54.6,140.0 54.6,144.2 54.7,137.4 54.8,143.4 54.9,143.5 55.0,141.1 55.0,145.4 55.1,143.5 55.2,142.0 55.3,141.3 55.4,142.7 55.4,143.6 55.5,144.4 55.6,141.2 55.7,139.9 55.8,142.4 55.8,142.0 55.9,139.3 56.0,139.3 56.1,142.2 56.2,138.1 56.2,137.3 56.3,139.5 56.4,141.5 56.5,140.8 56.6,138.1 56.6,140.5 56.7,138.4 56.8,142.2 56.9,136.7 57.0,140.3 57.0,137.6 57.1,139.0 57.2,138.7 57.3,141.5 57.4,136.2 57.4,138.7 57.5,142.8 57.6,137.2 57.7,139.9 57.8,142.6 57.8,142.1 57.9,136.3 58.0,136.8 58.1,141.8 58.2,137.0 58.2,142.9 58.3,142.5 58.4,139.5 58.5,138.7 58.6,139.1 58.6,141.9 58.7,136.0 58.8,133.0 58.9,135.4 59.0,136.2 59.0,141.4 59.1,136.9 59.2,140.1 59.3,139.1 59.4,136.7 59.4,136.2 59.5,136.1 59.6,139.1 59.7,142.7 59.8,138.0 59.8,134.1 59.9,135.9 60.0,135.7 60.1,136.1 60.2,129.0 60.2,135.7 60.3,136.4 60.4,134.1 60.5,137.4 60.6,140.2 60.6,138.8 60.7,139.7 60.8,137.7 60.9,134.2 61.0,135.1 61.0,141.3 61.1,134.4 61.2,135.0 61.3,138.8 61.4,139.9 61.5,139.9 61.5,139.4 61.6,137.0 61.7,137.3 61.8,133.8 61.9,135.6 61.9,136.8 62.0,139.5 62.1,135.8 62.2,137.4 62.3,136.6 62.3,135.5 62.4,137.2 62.5,134.8 62.6,132.3 62.7,138.6 62.7,132.3 62.8,134.1 62.9,136.5 63.0,139.3 63.1,134.3 63.1,139.1 63.2,137.6 63.3,132.6 63.4,134.4 63.5,135.3 63.5,136.3 63.6,138.6 63.7,136.7 63.8,137.5 63.9,131.6 64.0,132.8 64.0,133.0 64.1,132.3 64.2,131.5 64.3,136.0 64.4,135.5 64.4,131.6 64.5,134.4 64.6,135.0 64.7,134.1 64.8,135.3 64.8,134.4 64.9,131.2 65.0,131.8 65.1,134.1 65.2,135.0 65.2,134.9 65.3,138.9 65.4,130.5 65.5,134.4 65.6,131.5 65.6,132.0 65.7,131.2 65.8,133.8 65.9,134.0 66.0,131.1 66.0,135.9 66.1,130.6 66.2,131.4 66.3,128.8 66.4,132.8 66.5,128.1 66.5,132.0 66.6,129.4 66.7,135.7 66.8,128.5 66.9,134.0 66.9,136.6 67.0,135.3 67.1,137.0 67.2,133.1 67.3,131.9 67.3,127.4 67.4,131.1 67.5,133.5 67.6,135.5 67.7,129.4 67.7,128.6 67.8,132.5 67.9,131.4 68.0,130.6 68.1,129.8 68.1,131.8 68.2,129.6 68.3,134.4 68.4,129.4 68.5,131.1 68.5,129.2 68.6,126.7 68.7,132.6 68.8,128.0 68.9,127.5 69.0,131.1 69.0,127.6 69.1,129.5 69.2,129.9 69.3,132.5 69.4,129.7 69.4,127.5 69.5,133.0 69.6,135.2 69.7,128.5 69.8,130.9 69.8,127.3 69.9,134.5 70.0,127.5 70.1,128.0 70.2,127.5 70.2,133.2 70.3,127.6 70.4,134.9 70.5,128.2 70.6,130.7 70.6,130.5 70.7,129.4 70.8,128.0 70.9,125.6 71.0,136.2 71.1,123.7 71.1,126.0 71.2,128.4 71.3,126.1 71.4,123.7 71.5,122.8 71.5,123.0 71.6,123.6 71.7,119.6 71.8,125.8 71.9,124.5 71.9,121.1 72.0,125.8 72.1,127.9 72.2,127.3 72.3,127.6 72.4,123.8 72.4,125.1 72.5,121.5 72.6,127.1 72.7,122.3 72.8,124.9 72.8,124.8 72.9,125.0 73.0,127.3 73.1,125.7 73.2,123.4 73.2,125.5 73.3,123.5 73.4,126.1 73.5,126.1 73.6,126.0 73.6,124.6 73.7,123.4 73.8,123.9 73.9,121.1 74.0,120.6 74.1,123.1 74.1,123.0 74.2,120.7 74.3,121.0 74.4,119.8 74.5,120.0 74.5,124.8 74.6,125.1 74.7,122.7 74.8,125.6 74.9,121.6 74.9,126.6 75.0,118.7 75.1,125.8 75.2,123.0 75.3,125.5 75.4,118.7 75.4,117.8 75.5,118.5 75.6,115.5 75.7,121.2 75.8,123.4 75.8,120.3 75.9,118.6 76.0,122.3 76.1,118.8 76.2,119.1 76.2,116.7 76.3,117.5 76.4,119.0 76.5,120.4 76.6,121.3 76.6,119.7 76.7,122.2 76.8,122.6 76.9,119.3 77.0,122.9 77.0,117.8 77.1,120.0 77.2,122.2 77.3,118.9 77.4,117.5 77.4,120.8 77.5,117.0 77.6,115.1 77.7,116.8 77.8,119.8 77.8,118.1 77.9,122.2 78.0,117.0 78.1,121.3 78.2,121.7 78.2,121.2 78.3,121.0 78.4,117.7 78.5,121.2 78.6,117.5 78.6,117.8 78.7,117.1 78.8,116.5 78.9,119.4 79.0,115.8 79.0,125.2 79.1,116.3 79.2,118.2 79.3,119.1 79.4,122.6 79.4,116.2 79.5,117.3 79.6,121.6 79.7,122.2 79.8,119.6 79.8,119.9 79.9,120.0 80.0,118.9 80.1,118.4 80.2,122.5 80.2,121.1 80.3,120.8 80.4,118.0 80.5,114.5 80.6,118.1 80.6,121.5 80.7,121.3 80.8,116.9 80.9,121.1 81.0,119.5 81.0,122.3 81.1,120.3 81.2,117.3 81.3,117.6 81.4,119.1 81.4,119.1 81.5,120.9 81.6,116.9 81.7,115.6 81.8,115.9 81.8,116.3 81.9,122.3 82.0,115.8 82.1,116.6 82.2,122.6 82.2,121.1 82.3,114.7 82.4,120.0 82.5,114.4 82.6,121.3 82.6,116.1 82.7,121.5 82.8,116.4 82.9,116.6 83.0,121.4 83.0,117.1 83.1,117.2 83.2,119.8 83.3,114.8 83.4,117.7 83.4,114.8 83.5,116.9 83.6,118.1 83.7,121.9 83.8,122.7 83.8,118.8 83.9,121.3 84.0,119.4 84.1,123.3 84.2,118.8 84.2,114.9 84.3,115.1 84.4,115.3 84.5,117.7 84.6,121.2 84.6,119.7 84.7,120.4 84.8,118.3 84.9,117.1 85.0,117.3 85.0,116.9 85.1,119.2 85.2,118.3 85.3,119.7 85.4,116.0 85.4,123.3 85.5,117.9 85.6,122.3 85.7,118.7 85.8,120.9 85.8,118.6 85.9,118.5 86.0,119.5 86.1,116.9 86.2,116.4 86.2,117.6 86.3,115.2 86.4,119.8 86.5,121.4 86.6,120.2 86.6,122.4 86.7,122.5 86.8,119.9 86.9,115.4 87.0,115.7 87.0,122.9 87.1,122.6 87.2,120.8 87.3,116.9 87.4,121.5 87.4,122.4 87.5,117.0 87.6,117.6 87.7,119.4 87.8,120.5 87.8,122.4 87.9,119.0 88.0,118.7 88.1,120.3 88.2,118.7 88.2,117.4 88.3,120.3 88.4,116.2 88.5,122.3 88.6,120.7 88.6,116.6 88.7,120.8 88.8,120.4 88.9,120.2 89.0,118.5 89.0,117.4 89.1,121.1 89.2,117.1 89.3,117.0 89.4,118.6 89.4,117.3 89.5,124.5 89.6,117.4 89.7,121.1 89.8,119.7 89.8,117.3 89.9,118.6 90.0,120.8 90.1,117.3 90.2,124.4 90.2,121.0 90.3,123.0 90.4,124.3 90.5,121.2 90.6,120.3 90.6,116.1 90.7,121.4 90.8,122.8 90.9,117.9 91.0,117.3 91.0,123.5 91.1,123.7 91.2,122.3 91.3,122.8 91.4,124.6 91.4,121.9 91.5,114.4 91.6,124.0 91.7,120.1 91.8,119.6 91.8,123.0 91.9,124.7 92.0,122.1 92.1,119.8 92.2,117.4 92.2,121.0 92.3,123.7 92.4,122.4 92.5,119.1 92.6,123.5 92.6,122.3 92.7,120.5 92.8,118.6 92.9,116.7 93.0,122.3 93.0,121.8 93.1,121.3 93.2,120.2 93.3,120.8 93.4,120.5 93.4,125.4 93.5,120.0 93.6,121.2 93.7,115.6 93.8,124.6 93.8,124.7 93.9,121.4 94.0,118.2 94.1,119.3 94.2,124.7 94.2,122.9 94.3,122.5 94.4,119.5 94.5,124.6 94.6,119.6 94.6,122.8 94.7,123.3 94.8,123.5 94.9,123.6 95.0,123.6 95.1,121.3 95.1,123.9 95.2,119.1 95.3,124.3 95.4,122.5 95.5,120.9 95.5,119.8 95.6,120.3 95.7,125.0 95.8,121.1 95.9,124.3 95.9,118.9 96.0,123.6 96.1,123.2 96.2,124.2 96.3,119.3 96.3,126.3 96.4,124.1 96.5,121.3 96.6,117.2 96.7,122.7 96.7,123.4 96.8,122.1 96.9,124.2 97.0,119.4 97.1,122.1 97.1,123.8 97.2,122.7 97.3,122.8 97.4,120.7 97.5,123.3 97.5,121.0 97.6,118.0 97.7,120.7 97.8,120.0 97.9,121.7 97.9,123.2 98.0,119.4 98.1,121.0 98.2,120.4 98.3,124.3 98.3,119.5 98.4,125.4 98.5,129.1 98.6,124.6 98.7,121.0 98.7,120.9 98.8,121.3 98.9,121.3 99.0,123.8 99.1,123.8 99.1,120.2 99.2,122.4 99.3,127.0 99.4,120.4 99.5,125.2 99.5,121.7 99.6,125.0 99.7,121.1 99.8,122.1 99.9,122.6 99.9,119.9 100.0,122.4 100.1,127.0 100.2,125.4 100.3,127.1 100.4,125.5 100.4,122.5 100.5,119.0 100.6,132.0 100.7,122.7 100.8,124.7 100.8,122.6 100.9,125.1 101.0,125.3 101.1,122.6 101.2,122.2 101.2,126.9 101.3,122.7 101.4,117.5 101.5,124.7 101.6,124.5 101.6,124.1 101.7,123.1 101.8,122.9 101.9,124.4 102.0,127.0 102.0,124.1 102.1,125.4 102.2,126.8 102.3,125.4 102.4,126.0 102.4,126.7 102.5,126.8 102.6,123.7 102.7,122.8 102.8,121.5 102.8,124.1 102.9,126.5 103.0,124.0 103.1,123.2 103.2,122.5 103.2,122.0 103.3,122.9 103.4,126.9 103.5,124.4 103.6,125.0 103.6,124.7 103.7,125.0 103.8,125.7 103.9,124.5 104.0,122.0 104.0,123.6 104.1,120.2 104.2,122.2 104.3,129.3 104.4,129.7 104.4,121.5 104.5,128.2 104.6,120.7 104.7,127.1 104.8,124.1 104.8,123.5 104.9,122.2 105.0,123.7 105.1,123.8 105.2,122.6 105.2,119.9 105.3,124.6 105.4,122.4 105.5,127.6 105.6,127.7 105.6,124.3 105.7,122.1 105.8,122.8 105.9,124.5 106.0,124.0 106.0,126.4 106.1,124.8 106.2,119.0 106.3,121.3 106.4,123.2 106.4,126.8 106.5,124.7 106.6,126.1 106.7,124.4 106.8,118.7 106.8,126.1 106.9,125.0 107.0,121.1 107.1,123.8 107.2,125.0 107.2,125.2 107.3,121.9 107.4,122.2 107.5,122.0 107.6,120.3 107.6,121.0 107.7,125.5 107.8,126.1 107.9,123.0 108.0,123.1 108.0,127.9 108.1,124.4 108.2,121.6 108.3,123.6 108.4,123.5 108.4,126.5 108.5,123.3 108.6,124.5 108.7,127.0 108.8,124.7 108.8,124.4 108.9,122.1 109.0,124.9 109.1,122.3 109.2,126.2 109.2,120.3 109.3,125.3 109.4,124.7 109.5,121.5 109.6,122.0 109.6,122.7 109.7,125.1 109.8,126.1 109.9,128.6 110.0,120.0 110.0,125.5 110.1,124.4 110.2,123.3 110.3,127.3 110.4,127.8 110.4,122.6 110.5,126.7 110.6,126.9 110.7,125.8 110.8,123.5 110.8,123.1 110.9,124.4 111.0,125.0 111.1,122.0 111.2,124.8 111.2,126.9 111.3,126.8 111.4,123.8 111.5,120.0 111.6,124.6 111.6,126.3 111.7,123.7 111.8,125.5 111.9,127.7 112.0,122.8 112.0,123.4 112.1,125.8 112.2,121.8 112.3,127.3 112.4,122.7 112.4,116.8 112.5,125.5 112.6,122.1 112.7,123.6 112.8,121.5 112.8,125.4 112.9,122.7 113.0,126.9 113.1,129.4 113.2,129.0 113.2,123.9 113.3,128.7 113.4,126.5 113.5,120.9 113.6,126.7 113.6,127.8 113.7,122.7 113.8,123.8 113.9,128.3 114.0,122.9 114.0,126.7 114.1,130.8 114.2,125.1 114.3,123.4 114.4,127.0 114.4,124.1 114.5,127.9 114.6,123.8 114.7,121.3 114.8,125.5 114.8,123.5 114.9,126.8 115.0,124.1 115.1,122.8 115.2,131.0 115.2,124.8 115.3,127.5 115.4,122.2 115.5,127.9 115.6,123.4 115.6,121.8 115.7,126.8 115.8,121.8 115.9,121.5 116.0,123.1 116.0,124.1 116.1,126.0 116.2,124.9 116.3,124.7 116.4,123.9 116.4,124.0 116.5,122.3 116.6,124.6 116.7,119.0 116.8,129.6 116.8,122.9 116.9,125.0 117.0,124.1 117.1,126.6 117.2,127.1 117.2,123.9 117.3,121.6 117.4,123.6 117.5,123.1 117.6,127.6 117.6,128.0 117.7,127.9 117.8,129.2 117.9,126.7 118.0,124.6 118.0,127.4 118.1,126.3 118.2,125.0 118.3,126.0 118.4,126.5 118.4,126.9 118.5,127.0 118.6,124.0 118.7,127.0 118.8,124.4 118.8,122.7 118.9,122.6 119.0,122.5 119.1,123.7 119.2,126.2 119.2,123.5 119.3,127.0 119.4,127.8 119.5,123.1 119.6,126.8 119.6,126.9 119.7,124.3 119.8,123.9 119.9,124.6 120.0,122.8 120.0,122.4 120.1,124.8 120.2,126.3 120.3,130.9 120.4,126.5 120.4,125.3 120.5,124.4 120.6,127.6 120.7,129.3 120.8,123.1 120.8,122.1 120.9,120.0 121.0,125.8 121.1,127.8 121.2,127.3 121.2,125.9 121.3,123.2 121.4,122.2 121.5,127.5 121.6,120.9 121.6,126.4 121.7,127.8 121.8,122.9 121.9,123.7 122.0,125.7 122.0,120.0 122.1,127.9 122.2,128.1 122.3,121.3 122.4,123.0 122.4,123.9 122.5,124.9 122.6,121.3 122.7,125.0 122.8,122.6 122.8,124.2 122.9,122.2 123.0,123.2 123.1,124.5 123.2,125.9 123.2,121.0 123.3,125.3 123.4,122.8 123.5,125.2 123.6,126.1 123.6,125.1 123.7,127.3 123.8,124.4 123.9,127.4 124.0,121.6 124.0,120.2 124.1,124.3 124.2,128.0 124.3,125.2 124.4,125.9 124.4,121.0 124.5,128.9 124.6,126.2 124.7,121.6 124.8,124.2 124.8,131.3 124.9,123.3 125.0,128.7 125.1,124.2 125.2,120.9 125.2,123.2 125.3,123.1 125.4,122.1 125.5,122.8 125.6,126.6 125.6,125.7 125.7,121.0 125.8,122.9 125.9,121.1 126.0,122.1 126.0,125.3 126.1,123.8 126.2,123.1 126.3,124.9 126.4,117.8 126.4,120.3 126.5,125.8 126.6,122.0 126.7,126.6 126.8,127.4 126.8,126.3 126.9,124.3 127.0,122.5 127.1,126.4 127.2,121.9 127.2,120.8 127.3,121.7 127.4,121.3 127.5,125.0 127.6,123.0 127.6,123.7 127.7,124.4 127.8,122.3 127.9,125.5 128.0,124.0 128.1,126.7 128.1,123.9 128.2,121.5 128.3,120.6 128.4,119.9 128.5,122.0 128.5,121.4 128.6,125.4 128.7,122.7 128.8,123.6 128.9,126.6 128.9,123.4 129.0,122.2 129.1,125.8 129.2,121.0 129.3,129.4 129.3,127.5 129.4,127.1 129.5,131.4 129.6,125.8 129.7,122.9 129.7,126.9 129.8,123.1 129.9,124.9 130.0,122.4 130.1,123.6 130.1,124.9 130.2,122.1 130.3,121.3 130.4,122.9 130.5,127.6 130.5,120.7 130.6,121.9 130.7,123.3 130.8,120.8 130.9,120.0 130.9,122.3 131.0,128.1 131.1,122.0 131.2,122.1 131.3,122.1 131.3,120.2 131.4,127.4 131.5,127.0 131.6,126.4 131.7,122.6 131.7,125.5 131.8,124.9 131.9,124.8 132.0,122.5 132.1,128.1 132.1,124.0 132.2,124.8 132.3,124.9 132.4,123.2 132.5,121.6 132.5,123.4 132.6,123.2 132.7,125.8 132.8,125.4 132.9,122.6 132.9,123.7 133.0,126.4 133.1,122.6 133.2,126.4 133.3,126.0 133.4,121.6 133.4,121.2 133.5,127.0 133.6,125.0 133.7,125.0 133.8,124.2 133.8,123.7 133.9,123.8 134.0,125.4 134.1,127.6 134.2,124.5 134.2,124.1 134.3,122.2 134.4,123.7 134.5,120.1 134.6,125.0 134.6,121.7 134.7,126.0 134.8,123.1 134.9,123.4 135.0,127.1 135.0,127.3 135.1,126.0 135.2,123.4 135.3,127.7 135.4,127.5 135.4,124.8 135.5,121.1 135.6,119.0 135.7,124.3 135.8,122.2 135.8,127.0 135.9,122.8 136.0,129.3 136.1,123.9 136.2,126.1 136.2,123.3 136.3,127.6 136.4,123.2 136.5,123.3 136.6,126.2 136.6,122.2 136.7,126.1 136.8,126.8 136.9,121.1 137.0,122.6 137.0,125.5 137.1,125.6 137.2,124.0 137.3,126.3 137.4,126.2 137.4,126.8 137.5,124.1 137.6,128.7 137.7,127.9 137.8,126.4 137.8,121.9 137.9,125.3 138.0,125.1 138.1,124.8 138.2,126.5 138.2,127.6 138.3,125.4 138.4,125.2 138.5,121.5 138.6,120.8 138.6,127.3 138.7,126.7 138.8,122.5 138.9,124.1 139.0,127.2 139.0,123.9 139.1,124.6 139.2,126.9 139.3,124.8 139.4,125.9 139.4,124.6 139.5,122.6 139.6,125.3 139.7,123.1 139.8,122.5 139.8,122.0 139.9,126.5 140.0,124.3 140.1,132.7 140.2,123.6 140.2,125.8 140.3,125.2 140.4,127.6 140.5,121.6 140.6,124.7 140.6,124.5 140.7,125.1 140.8,124.5 140.9,122.2 141.0,125.2 141.1,129.1 141.1,127.7 141.2,122.4 141.3,121.7 141.4,126.9 141.5,126.2 141.5,124.1 141.6,124.8 141.7,127.1 141.8,132.4 141.9,127.0 141.9,127.3 142.0,126.3 142.1,128.5 142.2,122.8 142.3,121.6 142.3,121.5 142.4,122.7 142.5,120.9 142.6,128.1 142.7,128.3 142.7,123.7 142.8,122.9 142.9,128.5 143.0,121.9 143.1,124.3 143.1,123.7 143.2,121.4 143.3,122.7 143.4,123.4 143.5,128.0 143.5,124.2 143.6,121.8 143.7,129.7 143.8,126.3 143.9,122.6 143.9,124.4 144.0,122.3 144.1,124.6 144.2,126.6 144.3,127.7 144.3,127.0 144.4,122.4 144.5,121.2 144.6,127.8 144.7,125.1 144.7,121.9 144.8,124.8 144.9,123.3 145.0,126.1 145.1,130.8 145.1,128.7 145.2,126.6 145.3,123.3 145.4,126.0 145.5,123.7 145.5,127.0 145.6,119.0 145.7,116.2 145.8,128.3 145.9,116.2 145.9,128.8 146.0,128.2 146.1,123.6 146.2,123.4 146.3,122.8 146.3,125.8 146.4,127.5 146.5,127.5 146.6,125.4 146.7,127.6 146.7,126.4 146.8,123.8 146.9,123.5 147.0,118.6 147.1,122.9 147.1,123.3 147.2,122.9 147.3,125.2 147.4,124.8 147.5,124.8 147.5,123.2 147.6,127.6 147.7,127.9 147.8,129.0 147.9,126.0 147.9,121.4 148.0,129.8 148.1,125.1 148.2,121.8 148.3,127.9 148.3,126.5 148.4,124.3 148.5,123.9 148.6,127.0 148.7,123.3 148.7,123.9 148.8,123.7 148.9,128.3 149.0,125.6 149.1,126.9 149.1,125.6 149.2,122.4 149.3,128.0 149.4,128.3 149.5,123.5 149.5,123.2 149.6,125.0 149.7,128.5 149.8,128.3 149.9,126.7 149.9,129.8 150.0,126.6 150.1,123.8 150.2,124.6 150.3,127.5 150.4,128.5 150.4,127.8 150.5,123.1 150.6,129.5 150.7,124.1 150.8,123.8 150.8,127.2 150.9,126.8 151.0,128.9 151.1,128.6 151.2,129.3 151.2,120.4 151.3,126.6 151.4,128.2 151.5,123.7 151.6,124.1 151.6,124.6 151.7,127.6 151.8,123.1 151.9,126.1 152.0,123.1 152.0,121.8 152.1,128.4 152.2,130.7 152.3,123.8 152.4,126.3 152.4,128.8 152.5,127.5 152.6,129.0 152.7,129.8 152.8,125.6 152.8,124.8 152.9,124.4 153.0,126.8 153.1,124.3 153.2,127.4 153.2,125.2 153.3,124.7 153.4,125.9 153.5,119.9 153.6,126.7 153.6,127.7 153.7,125.6 153.8,123.8 153.9,122.1 154.0,129.4 154.0,124.2 154.1,125.1 154.2,132.9 154.3,125.7 154.4,126.9 154.4,118.1 154.5,124.0 154.6,128.3 154.7,124.6 154.8,126.7 154.8,121.5 154.9,125.3 155.0,127.2 155.1,130.2 155.2,126.0 155.2,129.6 155.3,126.9 155.4,127.1 155.5,129.9 155.6,128.9 155.6,124.3 155.7,128.1 155.8,124.5 155.9,125.0 156.0,127.2 156.0,131.3 156.1,120.4 156.2,128.6 156.3,131.6 156.4,126.7 156.4,129.1 156.5,128.2 156.6,123.7 156.7,121.9 156.8,126.3 156.8,125.0 156.9,128.8 157.0,127.3 157.1,122.6 157.2,127.3 157.2,122.6 157.3,124.8 157.4,131.6 157.5,128.5 157.6,125.8 157.6,126.5 157.7,130.1 157.8,124.0 157.9,129.8 158.0,130.5 158.0,125.8 158.1,126.0 158.2,121.6 158.3,128.2 158.4,129.5 158.4,125.9 158.5,127.5 158.6,126.6 158.7,123.6 158.8,125.3 158.8,125.5 158.9,121.7 159.0,126.5 159.1,130.1 159.2,127.8 159.2,121.2 159.3,119.4 159.4,129.9 159.5,128.3 159.6,124.7 159.6,125.7 159.7,127.9 159.8,124.1 159.9,124.0 160.0,129.6 160.1,126.4 160.1,125.4 160.2,128.8 160.3,127.1 160.4,128.7 160.5,126.1 160.5,128.3 160.6,128.2 160.7,129.8 160.8,125.9 160.9,129.9 160.9,130.1 161.0,129.7 161.1,129.3 161.2,125.2 161.3,126.0 161.3,131.0 161.4,127.8 161.5,119.7 161.6,128.2 161.7,124.0 161.7,129.5 161.8,126.8 161.9,126.8 162.0,130.8 162.1,127.9 162.1,125.3 162.2,130.2 162.3,128.4 162.4,127.1 162.5,126.4 162.5,130.2 162.6,128.2 162.7,125.4 162.8,126.2 162.9,129.4 162.9,130.6 163.0,124.2 163.1,126.7 163.2,126.0 163.3,128.7 163.3,128.8 163.4,125.5 163.5,128.6 163.6,130.3 163.7,126.6 163.7,129.8 163.8,134.8 163.9,129.5 164.0,127.9 164.1,126.1 164.1,125.0 164.2,126.0 164.3,127.9 164.4,120.2 164.5,131.7 164.5,125.7 164.6,124.9 164.7,129.7 164.8,120.1 164.9,125.4 164.9,125.5 165.0,122.0 165.1,129.9 165.2,125.3 165.3,130.4 165.3,129.0 165.4,125.9 165.5,127.2 165.6,124.8 165.7,128.1 165.7,125.1 165.8,129.3 165.9,129.3 166.0,131.3 166.1,129.2 166.1,124.5 166.2,125.1 166.3,131.7 166.4,129.6 166.5,124.6 166.5,130.4 166.6,127.7 166.7,129.2 166.8,128.0 166.9,127.8 166.9,133.6 167.0,134.1 167.1,128.0 167.2,128.2 167.3,126.9 167.3,126.5 167.4,130.5 167.5,131.2 167.6,130.5 167.7,129.8 167.7,132.6 167.8,129.1 167.9,125.9 168.0,134.4 168.1,130.2 168.1,128.2 168.2,129.7 168.3,127.1 168.4,129.9 168.5,130.9 168.5,129.5 168.6,130.9 168.7,129.6 168.8,131.7 168.9,128.0 168.9,128.3 169.0,130.1 169.1,125.4 169.2,127.5 169.3,127.7 169.4,127.9 169.4,126.3 169.5,129.7 169.6,128.2 169.7,129.8 169.8,126.6 169.8,126.9 169.9,126.9 170.0,126.8 170.1,135.6 170.2,132.4 170.2,125.7 170.3,128.4 170.4,129.3 170.5,129.2 170.6,125.8 170.6,126.7 170.7,129.3 170.8,132.4 170.9,128.4 171.0,126.3 171.0,129.1 171.1,123.1 171.2,126.9 171.3,128.9 171.4,124.4 171.4,131.3 171.5,128.8 171.6,127.1 171.7,125.7 171.8,129.1 171.8,130.8 171.9,126.8 172.0,127.5 172.1,130.6 172.2,128.8 172.2,127.6 172.3,136.3 172.4,131.7 172.5,128.1 172.6,131.6 172.6,128.6 172.7,128.6 172.8,135.1 172.9,128.6 173.0,131.8 173.0,126.3 173.1,131.2 173.2,129.1 173.3,127.4 173.4,127.3 173.4,129.5 173.5,134.1 173.6,130.4 173.7,131.9 173.8,128.5 173.8,132.7 173.9,128.1 174.0,131.7 174.1,132.4 174.2,130.7 174.2,130.2 174.3,129.3 174.4,127.3 174.5,133.1 174.6,132.1 174.6,132.1 174.7,127.5 174.8,131.9 174.9,127.7 175.0,132.7 175.0,132.6 175.1,128.2 175.2,131.1 175.3,126.0 175.4,130.0 175.4,129.3 175.5,123.7 175.6,131.3 175.7,129.4 175.8,129.3 175.8,130.9 175.9,130.1 176.0,129.8 176.1,128.7 176.2,128.4 176.2,129.5 176.3,125.7 176.4,129.1 176.5,130.0 176.6,132.8 176.7,130.5 176.7,130.5 176.8,130.7 176.9,129.4 177.0,132.6 177.1,134.2 177.1,127.0 177.2,131.1 177.3,126.5 177.4,128.6 177.5,128.7 177.5,132.4 177.6,129.9 177.7,129.2 177.8,126.0 177.9,135.9 177.9,133.9 178.0,128.5 178.1,129.8 178.2,132.3 178.3,130.9 178.3,134.6 178.4,131.5 178.5,129.6 178.6,129.4 178.7,127.9 178.7,131.9 178.8,125.7 178.9,130.6 179.0,131.5 179.1,130.6 179.1,127.7 179.2,130.3 179.3,134.3 179.4,131.1 179.5,129.8 179.5,133.0 179.6,131.0 179.7,127.7 179.8,133.7 179.9,129.9 179.9,133.6 180.0,131.2 180.1,129.5 180.2,128.2 180.3,131.6 180.3,131.7 180.4,131.3 180.5,128.8 180.6,134.7 180.7,130.7 180.8,131.5 180.8,127.8 180.9,128.7 181.0,132.1 181.1,129.4 181.2,127.5 181.2,128.9 181.3,124.6 181.4,133.6 181.5,136.7 181.6,131.0 181.6,127.4 181.7,131.0 181.8,128.3 181.9,130.1 182.0,136.9 182.0,132.9 182.1,139.7 182.2,131.7 182.3,129.2 182.4,132.0 182.4,132.5 182.5,129.9 182.6,133.6 182.7,133.5 182.8,130.9 182.8,133.6 182.9,136.3 183.0,129.1 183.1,134.1 183.2,129.9 183.2,134.2 183.3,133.2 183.4,134.9 183.5,134.5 183.6,130.6 183.6,133.5 183.7,129.4 183.8,133.9 183.9,133.2 184.0,132.2 184.0,128.0 184.1,131.0 184.2,131.0 184.3,130.4 184.4,135.9 184.4,133.5 184.5,135.3 184.6,132.3 184.7,135.4 184.8,135.6 184.8,133.3 184.9,129.5 185.0,135.2 185.1,132.1 185.2,131.9 185.2,133.3 185.3,134.4 185.4,133.0 185.5,131.3 185.6,133.7 185.6,135.9 185.7,132.8 185.8,132.1 185.9,134.6 186.0,135.7 186.0,137.7 186.1,134.6 186.2,130.0 186.3,138.0 186.4,132.6 186.4,130.4 186.5,136.2 186.6,128.9 186.7,132.4 186.8,134.6 186.8,128.5 186.9,129.5 187.0,131.7 187.1,135.6 187.2,131.7 187.2,139.2 187.3,135.6 187.4,132.9 187.5,136.2 187.6,135.3 187.6,133.0 187.7,137.3 187.8,132.1 187.9,132.0 188.0,135.7 188.1,138.1 188.1,137.2 188.2,128.7 188.3,132.3 188.4,135.8 188.5,128.9 188.5,134.4 188.6,133.0 188.7,135.9 188.8,134.9 188.9,132.8 188.9,133.4 189.0,133.9 189.1,137.6 189.2,137.7 189.3,137.3 189.4,137.6 189.4,132.7 189.5,136.1 189.6,136.9 189.7,136.5 189.8,137.4 189.8,138.1 189.9,133.8 190.0,137.7 190.1,138.2 190.2,136.4 190.2,136.1 190.3,140.4 190.4,139.2 190.5,137.7 190.6,132.5 190.6,134.5 190.7,133.9 190.8,134.1 190.9,136.4 191.0,135.0 191.0,138.4 191.1,138.7 191.2,137.1 191.3,135.2 191.4,138.2 191.5,139.2 191.5,133.2 191.6,133.8 191.7,138.7 191.8,138.7 191.9,138.7 191.9,133.2 192.0,134.6 192.1,139.5 192.2,136.5 192.3,135.2 192.3,135.7 192.4,132.6 192.5,138.7 192.6,135.6 192.7,137.0 192.7,137.9 192.8,136.9 192.9,138.6 193.0,137.5 193.1,131.2 193.1,135.7 193.2,136.3 193.3,136.1 193.4,136.8 193.5,135.0 193.5,137.0 193.6,137.4 193.7,133.3 193.8,130.4 193.9,132.5 193.9,134.4 194.0,134.0 194.1,134.7 194.2,135.7 194.3,131.0 194.3,132.2 194.4,131.0 194.5,130.7 194.6,132.3 194.7,129.8 194.7,129.1 194.8,133.2 194.9,128.0 195.0,136.0 195.1,132.1 195.1,130.7 195.2,130.4 195.3,129.4 195.4,134.3 195.5,127.4 195.5,133.8 195.6,136.0 195.7,135.0 195.8,128.7 195.9,132.1 196.0,131.0 196.0,132.3 196.1,127.5 196.2,126.8 196.3,128.9 196.4,127.7 196.4,125.1 196.5,131.3 196.6,131.2 196.7,129.2 196.8,126.8 196.8,123.6 196.9,128.5 197.0,128.5 197.1,129.5 197.2,125.1 197.2,129.8 197.3,126.8 197.4,121.6 197.5,125.2 197.6,125.2 197.6,128.3 197.7,127.1 197.8,123.7 197.9,124.9 198.0,122.9 198.0,121.4 198.1,121.8 198.2,121.2 198.3,122.9 198.4,123.5 198.4,120.6 198.5,127.0 198.6,124.4 198.7,121.1 198.8,125.9 198.8,127.2 198.9,122.7 199.0,121.4 199.1,123.8 199.2,125.8 199.2,118.3 199.3,125.9 199.4,118.7 199.5,122.9 199.6,121.4 199.6,122.1 199.7,121.4 199.8,120.4 199.9,120.6 200.0,118.6 200.0,116.5 200.1,121.8 200.2,118.5 200.3,122.5 200.4,116.3 200.4,117.7 200.5,122.0 200.6,119.7 200.7,121.0 200.8,119.3 200.8,118.0 200.9,116.7 201.0,115.3 201.1,118.3 201.2,117.4 201.2,117.5 201.3,110.9 201.4,119.8 201.5,114.5 201.6,113.4 201.7,116.6 201.7,115.9 201.8,112.8 201.9,116.8 202.0,112.5 202.1,116.2 202.1,112.1 202.2,114.0 202.3,111.7 202.4,115.6 202.5,111.5 202.5,113.7 202.6,113.0 202.7,112.7 202.8,112.2 202.9,112.7 203.0,112.1 203.0,114.3 203.1,113.4 203.2,113.0 203.3,111.7 203.4,109.5 203.4,109.7 203.5,109.8 203.6,109.0 203.7,109.3 203.8,110.4 203.8,108.7 203.9,108.1 204.0,108.8 204.1,109.0 204.2,108.5 204.3,111.5 204.3,108.1 204.4,110.1 204.5,109.7 204.6,106.5 204.7,107.1 204.7,106.6 204.8,106.7 204.9,106.2 205.0,106.9 205.1,106.4 205.2,106.4 205.2,106.6 205.3,105.9 205.4,105.1 205.5,103.6 205.6,103.5 205.6,104.5 205.7,104.3 205.8,102.5 205.9,102.4 206.0,102.1 206.0,102.1 206.1,100.8 206.2,101.7 206.3,101.4 206.4,100.6 206.5,100.2 206.5,100.2 206.6,99.6 206.7,100.5 206.8,98.8 206.9,99.0 206.9,99.2 207.0,98.9 207.1,97.9 207.2,98.2 207.3,97.9 207.3,97.5 207.4,97.8 207.5,98.1 207.6,95.7 207.7,96.0 207.8,96.2 207.8,96.1 207.9,95.4 208.0,95.2 208.1,94.0 208.2,94.8 208.2,94.0 208.3,93.8 208.4,92.7 208.5,93.0 208.6,91.6 208.6,91.6 208.7,91.3 208.8,91.4 208.9,90.8 209.0,90.9 209.0,90.2 209.1,89.4 209.2,89.3 209.3,89.4 209.4,87.6 209.4,87.9 209.5,87.6 209.6,86.8 209.7,86.4 209.8,85.1 209.8,85.1 209.9,85.5 210.0,84.6 210.1,83.9 210.2,83.4 210.2,82.5 210.3,81.7 210.4,81.7 210.5,81.1 210.6,81.5 210.7,80.4 210.7,78.5 210.8,78.8 210.9,77.9 211.0,78.7 211.1,76.3 211.1,76.2 211.2,75.5 211.3,75.2 211.4,73.8 211.5,74.5 211.6,73.6 211.6,72.4 211.7,71.6 211.8,71.2 211.9,70.6 212.0,69.0 212.1,68.3 212.1,66.8 212.2,66.7 212.3,66.2" fill="none" stroke="#008080" stroke-opacity="0.5" stroke-width="1.1" stroke-linejoin="miter" stroke-miterlimit="10"/>
</g>
<circle cx="45.2" cy="154.6" r="3.1" fill="none" stroke="#ff8c1a" stroke-width="1.05"/>
<circle cx="57.8" cy="137.5" r="3.1" fill="none" stroke="#ff8c1a" stroke-width="1.05"/>
<circle cx="64.9" cy="128" r="3.1" fill="none" stroke="#ff8c1a" stroke-width="1.05"/>
<circle cx="73.2" cy="118.5" r="3.1" fill="none" stroke="#ff8c1a" stroke-width="1.05"/>
<circle cx="87.6" cy="118.8" r="3.1" fill="none" stroke="#ff8c1a" stroke-width="1.05"/>
<circle cx="103.3" cy="122.2" r="3.1" fill="none" stroke="#ff8c1a" stroke-width="1.05"/>
<circle cx="119.4" cy="121" r="3.1" fill="none" stroke="#ff8c1a" stroke-width="1.05"/>
<circle cx="135.5" cy="123.4" r="3.1" fill="none" stroke="#ff8c1a" stroke-width="1.05"/>
<circle cx="155" cy="126.3" r="3.1" fill="none" stroke="#ff8c1a" stroke-width="1.05"/>
<circle cx="173.9" cy="127.4" r="3.1" fill="none" stroke="#ff8c1a" stroke-width="1.05"/>
<circle cx="191.3" cy="130.2" r="3.1" fill="none" stroke="#ff8c1a" stroke-width="1.05"/>
<circle cx="201.5" cy="108" r="3.1" fill="none" stroke="#ff8c1a" stroke-width="1.05"/>
<circle cx="209.1" cy="85.9" r="3.1" fill="none" stroke="#ff8c1a" stroke-width="1.05"/>
<rect x="283.2" y="0" width="70.5" height="17.3" fill="#c9c9fb"/>
<text class="s" x="309.3 319.2" y="13.2" font-size="13.9" font-family="Liberation Sans, sans-serif" fill="#000">UF</text>
<rect x="353.7" y="0" width="76.10000000000002" height="17.3" fill="#d8d8d8"/>
<text class="s" x="382.6 392.7" y="13.2" font-size="13.9" font-family="Liberation Sans, sans-serif" fill="#000">DF</text>
<rect x="429.8" y="0" width="21.099999999999966" height="17.3" fill="#e5e5fd"/>
<text class="s" x="431.2 441.1" y="13.2" font-size="13.9" font-family="Liberation Sans, sans-serif" fill="#000">UF</text>
<text x="234.8" y="15" font-size="16.3" font-weight="bold" font-family="Liberation Sans, sans-serif" fill="#000" stroke="#000" stroke-width="0.3">B</text>
<path d="M283.5 190.5v-6.3M283.5 22.5v6.3" stroke="#8c8c8c" stroke-width="0.7" fill="none"/>
<text x="283.5" y="205" font-size="14.6" text-anchor="middle" font-family="Liberation Serif, serif" fill="#000" stroke="#000" stroke-width="0.2">0</text>
<path d="M339.4 190.5v-6.3M339.4 22.5v6.3" stroke="#8c8c8c" stroke-width="0.7" fill="none"/>
<text x="339.4" y="205" font-size="14.6" text-anchor="middle" font-family="Liberation Serif, serif" fill="#000" stroke="#000" stroke-width="0.2">50</text>
<path d="M395.2 190.5v-6.3M395.2 22.5v6.3" stroke="#8c8c8c" stroke-width="0.7" fill="none"/>
<text x="395.2" y="205" font-size="14.6" text-anchor="middle" font-family="Liberation Serif, serif" fill="#000" stroke="#000" stroke-width="0.2">100</text>
<path d="M451 190.5v-6.3M451 22.5v6.3" stroke="#8c8c8c" stroke-width="0.7" fill="none"/>
<text x="451" y="205" font-size="14.6" text-anchor="middle" font-family="Liberation Serif, serif" fill="#000" stroke="#000" stroke-width="0.2">150</text>
<path d="M283.5 190.4h6.3M450.5 190.4h-6.3" stroke="#8c8c8c" stroke-width="0.7" fill="none"/>
<text x="278.5" y="195.6" font-size="14.6" text-anchor="end" font-family="Liberation Serif, serif" fill="#000" stroke="#000" stroke-width="0.2">0</text>
<path d="M283.5 113.3h6.3M450.5 113.3h-6.3" stroke="#8c8c8c" stroke-width="0.7" fill="none"/>
<text x="278.5" y="118.5" font-size="14.6" text-anchor="end" font-family="Liberation Serif, serif" fill="#000" stroke="#000" stroke-width="0.2">50</text>
<path d="M283.5 36.7h6.3M450.5 36.7h-6.3" stroke="#8c8c8c" stroke-width="0.7" fill="none"/>
<text x="278.5" y="41.9" font-size="14.6" text-anchor="end" font-family="Liberation Serif, serif" fill="#000" stroke="#000" stroke-width="0.2">100</text>
<path d="M354 22.5V190.5" stroke="#727272" stroke-width="1.3" fill="none"/>
<path d="M430 22.5V190.5" stroke="#727272" stroke-width="1.3" fill="none"/>
<rect x="283.5" y="22.5" width="167.0" height="168.0" fill="none" stroke="#262626" stroke-width="0.9"/>
<g font-family="Liberation Sans, sans-serif" font-size="13.9" fill="#000"><text class="s" x="332.5 341.9 345.1 356.0" y="224.4">Time</text><text x="368.1" y="227.6" font-size="20" font-family="Liberation Serif, serif">/</text><text class="s" x="380.4 392.1 395.3" y="224.4">min</text></g>
<g transform="translate(243.3,0) rotate(-90)" font-family="Liberation Sans, sans-serif" font-size="13.9" fill="#000"><text class="s" x="-173.8 -164.4 -157.0 -149.6 -143.6 -136.6 -128.3 -123.6 -119.2 -111.2 -106.4 -103.4 -96.0" y="0">Concentration</text><text x="-82.7" y="2.9" font-size="20" font-family="Liberation Serif, serif">/</text><text x="-71.4" y="-0.3" font-size="12.6" font-weight="bold" font-family="Liberation Serif, serif">g</text><text class="s" x="-61.3" y="0">L</text><text x="-52.7" y="-5.5" font-size="9.6" textLength="7.8" lengthAdjust="spacingAndGlyphs">−</text><text x="-44.4" y="-5.9" font-size="8.6" stroke="#000" stroke-width="0.25">1</text></g>
<polyline points="283.5,185.6 284.0,185.3 284.5,185.1 285.0,184.6 285.5,184.4 286.0,184.1 286.5,183.7 287.0,183.6 287.5,182.9 288.0,182.6 288.5,182.0 289.0,182.1 289.5,181.7 290.0,181.3 290.5,181.1 291.0,180.7 291.5,180.6 292.0,180.1 292.5,179.9 293.0,179.5 293.5,179.1 294.0,178.6 294.5,178.7 295.0,178.2 295.5,178.1 296.0,177.9 296.5,177.8 297.0,177.1 297.5,176.9 298.0,176.7 298.5,176.2 299.0,175.9 299.6,175.8 300.1,175.7 300.6,175.3 301.1,175.0 301.6,174.4 302.1,174.4 302.7,174.2 303.2,173.5 303.7,173.4 304.2,173.1 304.7,173.0 305.3,172.3 305.8,172.4 306.3,172.0 306.8,171.6 307.3,171.0 307.9,170.7 308.4,170.5 308.9,170.4 309.4,170.0 309.9,169.7 310.4,169.0 311.0,168.9 311.5,168.7 312.0,168.0 312.5,168.0 313.0,167.5 313.5,167.4 314.0,167.1 314.5,166.6 315.1,166.4 315.6,166.4 316.1,165.9 316.6,165.8 317.1,165.4 317.6,165.2 318.1,164.8 318.6,164.6 319.1,164.3 319.6,164.2 320.1,163.8 320.6,163.8 321.1,163.6 321.6,163.0 322.1,162.9 322.6,162.7 323.1,162.7 323.6,162.3 324.1,161.9 324.6,161.4 325.1,161.5 325.6,161.1 326.1,161.0 326.6,160.7 327.1,160.2 327.6,160.3 328.1,160.1 328.6,159.8 329.1,159.5 329.7,159.3 330.2,158.8 330.7,158.7 331.2,158.6 331.8,158.2 332.3,158.0 332.8,157.8 333.4,157.5 333.9,157.3 334.4,157.1 334.9,156.8 335.5,156.4 336.0,156.3 336.5,156.2 337.0,155.8 337.5,155.7 338.0,155.6 338.5,154.9 339.0,153.9 339.6,154.8 340.1,154.3 340.6,154.2 341.1,154.6 341.6,153.7 342.1,154.0 342.6,153.7 343.2,153.5 343.7,154.1 344.3,152.2 344.9,153.3 345.4,152.6 346.0,152.4 346.5,152.4 347.0,152.9 347.5,153.1 348.0,152.9 348.5,153.5 349.0,152.1 349.5,151.9 350.0,150.9 350.5,151.7 351.0,151.9 351.5,152.3 352.0,152.4 352.5,151.2 353.0,151.6 353.5,150.3 354.0,151.2 354.5,151.4 355.0,150.6 355.5,149.6 356.0,149.5 356.5,149.1 357.0,147.7 357.5,147.1 358.0,148.3 358.5,149.9 359.0,150.3 359.5,149.7 360.0,149.4 360.5,150.4 361.0,150.6 361.5,150.8 362.0,151.7 362.5,152.2 363.0,151.1 363.5,151.3 364.0,152.4 364.5,151.7 365.0,152.0 365.5,152.8 366.0,152.8 366.5,152.5 367.0,152.6 367.5,151.3 368.0,152.7 368.5,152.6 369.0,151.9 369.5,152.6 370.0,152.7 370.5,152.5 371.0,152.9 371.5,153.0 372.0,152.7 372.5,152.6 373.0,152.2 373.5,153.2 374.0,152.5 374.5,152.9 375.0,153.5 375.5,153.2 376.0,152.3 376.5,152.8 377.0,152.6 377.5,152.2 378.0,152.6 378.5,153.2 379.0,153.1 379.5,152.9 380.0,153.1 380.5,152.6 381.0,152.7 381.5,153.0 382.0,153.5 382.5,153.0 383.0,153.1 383.5,153.3 384.0,153.9 384.5,152.7 385.0,153.5 385.5,153.3 386.0,153.2 386.5,153.4 387.0,152.4 387.5,153.3 388.0,153.3 388.5,152.8 389.0,153.8 389.5,153.4 390.0,153.3 390.5,153.8 391.0,153.1 391.5,153.2 392.0,153.9 392.5,153.9 393.0,154.5 393.5,153.4 394.0,153.0 394.5,153.0 395.0,153.2 395.5,153.8 396.0,153.6 396.5,153.5 397.0,153.4 397.5,153.5 398.0,153.7 398.5,154.4 399.0,154.2 399.5,154.5 400.0,154.4 400.5,154.3 401.0,154.6 401.5,154.3 402.0,154.8 402.5,154.6 403.0,154.9 403.5,154.2 404.0,153.8 404.5,155.3 405.0,154.1 405.5,154.5 406.0,154.1 406.5,154.0 407.0,154.5 407.5,153.9 408.0,154.3 408.5,155.0 409.0,154.5 409.5,154.8 410.0,154.8 410.5,154.7 411.0,154.6 411.5,154.9 412.0,154.2 412.5,154.9 413.0,154.3 413.5,154.4 414.0,154.5 414.5,154.3 415.0,154.0 415.5,155.0 416.0,155.1 416.5,155.2 417.0,155.9 417.5,155.0 418.0,155.3 418.5,154.7 419.0,155.4 419.5,154.6 420.0,156.0 420.5,154.7 421.0,155.0 421.5,155.5 422.0,154.2 422.5,155.8 423.0,154.8 423.5,155.4 424.0,155.8 424.5,155.4 425.0,155.8 425.5,155.2 426.0,155.7 426.5,154.6 427.0,156.2 427.5,155.3 428.0,155.6 428.5,155.9 429.0,156.3 429.5,156.6 430.1,155.1 430.8,153.6 431.3,154.9 431.8,156.2 432.3,156.0 432.8,155.8 433.3,155.6 433.8,155.1 434.3,154.7 434.8,154.2 435.3,152.6 435.8,151.0 436.2,147.0 436.7,140.7 437.3,134.3 437.8,128.0 438.7,103.0 439.4,78.0 440.1,53.0 440.6,46.0 441.3,42.4" fill="none" stroke="#0000ff" stroke-width="1.8" stroke-linejoin="miter" stroke-miterlimit="10"/>
<polyline points="283.5,185.2 283.8,185.8 284.0,184.8 284.2,185.2 284.5,184.9 284.8,184.7 285.0,184.8 285.2,184.6 285.5,184.1 285.8,184.5 286.0,183.8 286.2,184.2 286.5,184.2 286.8,183.7 287.0,183.7 287.2,182.6 287.5,183.2 287.8,182.2 288.0,182.6 288.2,182.8 288.5,181.3 288.8,181.8 289.0,181.7 289.2,181.4 289.5,181.6 289.8,181.7 290.0,180.9 290.2,180.9 290.5,180.3 290.8,180.6 291.0,179.9 291.2,180.0 291.5,180.6 291.8,180.6 292.0,179.8 292.2,180.1 292.5,179.5 292.8,180.1 293.0,180.2 293.2,178.4 293.5,178.9 293.8,178.8 294.0,178.8 294.2,179.4 294.5,179.2 294.8,178.5 295.0,178.6 295.2,177.6 295.5,178.0 295.8,177.8 296.0,177.7 296.2,177.7 296.5,176.9 296.8,176.9 297.0,178.0 297.2,176.4 297.5,176.9 297.8,177.0 298.0,176.8 298.3,176.5 298.5,175.7 298.8,176.0 299.0,175.5 299.3,176.7 299.5,175.9 299.8,175.9 300.0,175.6 300.3,175.2 300.5,175.7 300.8,175.4 301.0,175.2 301.3,175.0 301.5,174.9 301.8,174.4 302.0,174.5 302.3,174.3 302.5,174.0 302.8,174.2 303.0,174.6 303.3,172.9 303.5,174.1 303.8,173.2 304.0,173.7 304.3,172.7 304.5,172.9 304.8,173.2 305.0,172.7 305.3,172.7 305.5,172.0 305.8,171.8 306.0,172.8 306.3,172.1 306.6,171.8 306.8,171.1 307.1,171.1 307.3,170.9 307.6,171.1 307.9,170.9 308.1,170.6 308.4,170.4 308.6,170.5 308.9,170.7 309.1,169.6 309.4,169.4 309.7,170.2 309.9,169.0 310.2,169.3 310.4,169.3 310.7,169.7 311.0,168.1 311.2,167.7 311.5,168.5 311.7,168.8 312.0,168.3 312.3,167.8 312.5,168.0 312.8,167.0 313.0,168.0 313.3,168.1 313.5,167.3 313.8,167.5 314.0,166.7 314.3,167.5 314.5,166.5 314.8,166.3 315.1,166.2 315.3,165.7 315.6,166.5 315.8,166.8 316.1,165.4 316.3,165.7 316.6,165.8 316.8,165.3 317.1,164.8 317.3,165.4 317.6,165.5 317.9,165.0 318.1,164.4 318.4,164.6 318.6,163.8 318.9,164.5 319.1,164.8 319.4,164.7 319.6,164.1 319.9,164.2 320.1,163.7 320.4,163.8 320.6,163.4 320.9,163.6 321.1,163.2 321.4,163.3 321.6,163.4 321.9,163.0 322.1,162.4 322.4,163.0 322.6,162.5 322.9,162.3 323.1,162.6 323.4,162.0 323.6,162.5 323.9,162.2 324.1,161.6 324.4,161.5 324.6,161.6 324.9,161.2 325.1,161.8 325.4,160.4 325.6,161.2 325.9,160.9 326.1,160.5 326.4,161.0 326.6,160.5 326.9,160.7 327.1,160.3 327.4,160.2 327.6,160.4 327.9,160.4 328.1,160.3 328.4,159.8 328.6,160.3 328.9,159.5 329.1,158.9 329.4,158.6 329.6,158.7 329.9,158.8 330.1,158.3 330.4,159.0 330.6,158.8 330.9,158.6 331.2,158.6 331.4,158.4 331.7,158.2 331.9,158.1 332.2,158.1 332.4,157.5 332.7,158.3 332.9,158.3 333.2,157.6 333.4,158.3 333.7,157.0 334.0,157.6 334.2,156.5 334.5,157.2 334.7,156.6 335.0,157.1 335.2,156.7 335.5,156.9 335.7,156.7 336.0,156.5 336.3,156.1 336.5,156.7 336.8,156.1 337.0,156.1 337.3,156.3 337.5,155.6 337.8,156.3 338.0,155.9 338.3,155.4 338.5,154.7 338.8,155.6 339.0,154.9 339.3,155.0 339.6,154.9 339.8,155.1 340.1,154.9 340.3,153.8 340.6,154.2 340.8,154.5 341.1,154.3 341.3,154.4 341.6,154.2 341.8,154.6 342.1,153.5 342.3,154.2 342.6,153.7 342.9,153.6 343.1,153.7 343.4,153.2 343.6,153.5 343.9,153.1 344.2,153.4 344.4,152.7 344.7,153.4 345.0,152.2 345.2,152.5 345.5,152.7 345.7,152.7 346.0,152.2 346.2,152.3 346.5,152.5 346.8,152.7 347.0,152.8 347.2,152.0 347.5,152.1 347.8,151.9 348.0,151.4 348.2,151.8 348.5,152.3 348.8,151.3 349.0,152.8 349.2,152.1 349.5,152.3 349.8,151.6 350.0,150.6 350.2,151.6 350.5,152.0 350.8,151.0 351.0,151.7 351.2,151.4 351.5,151.3 351.8,151.2 352.0,151.0 352.2,151.0 352.5,151.1 352.8,150.7 353.0,150.7 353.2,150.5 353.5,150.4 353.8,149.9 354.0,149.5 354.3,149.8 354.6,149.7 354.8,149.6 355.1,150.4 355.3,150.0 355.6,150.6 355.9,151.1 356.1,150.3 356.4,149.8 356.6,159.4 356.9,168.4 357.1,158.9 357.4,149.8 357.7,149.8 357.9,149.7 358.2,149.5 358.5,150.2 358.8,150.0 359.0,150.2 359.2,149.5 359.5,149.9 359.8,150.4 360.0,150.4 360.2,150.4 360.5,150.1 360.8,150.7 361.0,151.1 361.2,151.4 361.5,151.1 361.8,151.6 362.0,152.5 362.2,151.9 362.5,151.1 362.8,151.8 363.0,151.9 363.2,152.5 363.5,152.1 363.8,152.6 364.0,152.2 364.2,152.5 364.5,152.6 364.8,152.8 365.0,152.3 365.2,152.5 365.5,153.2 365.8,151.8 366.0,152.4 366.2,152.5 366.5,152.1 366.8,152.7 367.0,152.3 367.2,152.7 367.5,152.5 367.8,152.0 368.0,152.8 368.2,153.2 368.5,152.8 368.8,152.6 369.0,151.8 369.2,152.6 369.5,152.5 369.8,152.2 370.0,151.8 370.2,152.7 370.5,152.9 370.8,152.8 371.0,153.4 371.2,151.9 371.5,152.7 371.8,152.6 372.0,153.2 372.2,152.6 372.5,152.3 372.8,152.7 373.0,152.9 373.2,152.4 373.5,152.4 373.8,152.8 374.0,153.1 374.2,152.7 374.5,153.0 374.8,152.6 375.0,152.7 375.2,152.9 375.5,153.2 375.8,153.5 376.0,152.8 376.2,153.1 376.5,153.6 376.8,153.2 377.0,152.8 377.2,153.1 377.5,152.4 377.8,152.1 378.0,152.7 378.2,152.7 378.5,152.5 378.8,153.4 379.0,152.9 379.2,153.1 379.5,153.1 379.8,153.0 380.0,152.6 380.2,153.9 380.5,152.4 380.8,153.1 381.0,153.4 381.2,153.1 381.5,153.1 381.8,153.3 382.0,153.3 382.3,154.7 382.6,156.9 382.9,155.1 383.2,153.8 383.5,153.3 383.7,152.5 384.0,152.6 384.2,153.0 384.5,153.4 384.7,152.6 385.0,153.0 385.2,153.7 385.5,153.4 385.7,153.0 386.0,153.3 386.2,153.3 386.5,153.2 386.7,153.2 387.0,153.1 387.2,153.4 387.5,154.0 387.7,153.9 388.0,152.9 388.2,154.3 388.5,153.3 388.7,152.9 389.0,152.8 389.2,153.5 389.5,153.5 389.7,153.2 390.0,153.1 390.2,153.4 390.5,153.6 390.7,153.7 391.0,153.7 391.2,152.6 391.5,153.3 391.7,153.6 392.0,153.7 392.2,153.8 392.5,153.0 392.8,154.1 393.0,153.1 393.2,153.5 393.5,153.4 393.8,153.4 394.0,153.3 394.2,154.0 394.5,154.0 394.8,153.8 395.0,153.2 395.2,153.5 395.5,153.7 395.8,153.9 396.0,153.5 396.2,153.7 396.5,154.8 396.8,153.8 397.0,153.7 397.2,152.9 397.5,153.6 397.8,154.5 398.0,154.2 398.2,153.4 398.5,154.2 398.8,154.0 399.0,153.6 399.2,154.3 399.5,153.7 399.8,153.9 400.0,154.0 400.2,154.1 400.5,153.9 400.8,154.1 401.0,154.1 401.2,154.1 401.5,154.2 401.8,153.8 402.0,153.6 402.2,154.1 402.5,154.6 402.8,154.2 403.0,154.2 403.2,153.9 403.5,153.7 403.8,153.7 404.0,153.8 404.2,154.0 404.5,153.6 404.8,154.2 405.0,153.6 405.2,154.5 405.5,154.2 405.8,153.6 406.0,154.1 406.2,154.4 406.5,154.4 406.8,154.6 407.0,154.2 407.2,154.3 407.5,154.3 407.8,154.6 408.0,154.1 408.2,154.3 408.5,154.5 408.8,154.3 409.0,154.0 409.2,155.0 409.5,154.7 409.8,154.2 410.0,155.3 410.2,154.2 410.5,154.2 410.8,154.4 411.0,154.8 411.2,155.2 411.5,155.2 411.8,154.9 412.0,154.7 412.2,154.9 412.5,154.4 412.8,154.4 413.0,154.9 413.2,154.8 413.5,154.9 413.8,154.4 414.0,154.9 414.2,154.3 414.5,155.2 414.8,154.8 415.0,154.6 415.2,154.7 415.5,155.9 415.8,155.9 416.0,154.6 416.2,155.4 416.5,153.9 416.8,155.4 417.0,155.0 417.2,155.1 417.5,154.6 417.8,154.5 418.0,155.1 418.2,154.8 418.5,155.2 418.8,155.4 419.0,155.0 419.2,155.3 419.5,155.2 419.8,155.2 420.0,154.9 420.2,155.2 420.5,155.3 420.8,155.2 421.0,155.0 421.2,154.6 421.5,154.8 421.8,155.8 422.0,155.6 422.2,155.3 422.5,155.4 422.8,155.2 423.0,155.6 423.2,155.7 423.5,155.3 423.8,155.5 424.0,155.8 424.2,154.8 424.5,155.1 424.8,155.3 425.0,155.1 425.2,155.4 425.5,155.2 425.8,155.4 426.0,155.8 426.2,155.2 426.5,155.7 426.8,156.2 427.0,155.8 427.2,155.3 427.5,155.5 427.8,156.2 428.0,155.8 428.2,155.8 428.5,155.9 428.8,155.9 429.0,155.9 429.2,155.9 429.5,155.9 429.8,156.0 430.0,156.0 430.2,155.8 430.5,155.7 430.8,155.5 431.0,155.3 431.2,155.2 431.5,155.0 431.8,154.4 432.0,153.8 432.2,153.1 432.5,152.5 432.8,152.8 433.0,153.0 433.3,149.8 433.6,146.5 433.9,143.2 434.2,140.0 434.4,138.0 434.7,136.0 434.9,134.0 435.2,132.0 435.4,130.0 435.7,128.0 436.0,124.4 436.2,120.9 436.5,117.3 436.8,113.7 437.1,110.1 437.3,106.6 437.6,103.0 437.9,98.8 438.2,94.5 438.5,90.2 438.8,86.0 439.1,82.0 439.3,78.0 439.6,69.7 439.8,61.3 440.1,53.0 440.4,49.5 440.6,46.0 440.9,44.2 441.2,42.4" fill="none" stroke="#008080" stroke-opacity="0.5" stroke-width="1.1" stroke-linejoin="miter" stroke-miterlimit="10"/>
<path d="M440.2 43L440.7 38L441 34.2L441.5 38.5L442.1 43Z" fill="#008080" fill-opacity="0.5"/>
<circle cx="283.5" cy="185.3" r="3.1" fill="none" stroke="#ff8c1a" stroke-width="1.05"/>
<circle cx="289.9" cy="181.4" r="3.1" fill="none" stroke="#ff8c1a" stroke-width="1.05"/>
<circle cx="297.6" cy="176.8" r="3.1" fill="none" stroke="#ff8c1a" stroke-width="1.05"/>
<circle cx="306.4" cy="172.4" r="3.1" fill="none" stroke="#ff8c1a" stroke-width="1.05"/>
<circle cx="317.7" cy="163.2" r="3.1" fill="none" stroke="#ff8c1a" stroke-width="1.05"/>
<circle cx="328.5" cy="158.8" r="3.1" fill="none" stroke="#ff8c1a" stroke-width="1.05"/>
<circle cx="342.6" cy="152.6" r="3.1" fill="none" stroke="#ff8c1a" stroke-width="1.05"/>
<circle cx="366.4" cy="152.2" r="3.1" fill="none" stroke="#ff8c1a" stroke-width="1.05"/>
<circle cx="375.2" cy="152.5" r="3.1" fill="none" stroke="#ff8c1a" stroke-width="1.05"/>
<circle cx="383.8" cy="152.8" r="3.1" fill="none" stroke="#ff8c1a" stroke-width="1.05"/>
<circle cx="392.2" cy="153" r="3.1" fill="none" stroke="#ff8c1a" stroke-width="1.05"/>
<circle cx="399.3" cy="153.3" r="3.1" fill="none" stroke="#ff8c1a" stroke-width="1.05"/>
<circle cx="406.7" cy="153.6" r="3.1" fill="none" stroke="#ff8c1a" stroke-width="1.05"/>
<circle cx="414.4" cy="154" r="3.1" fill="none" stroke="#ff8c1a" stroke-width="1.05"/>
<circle cx="422" cy="154.3" r="3.1" fill="none" stroke="#ff8c1a" stroke-width="1.05"/>
<circle cx="428.6" cy="154.6" r="3.1" fill="none" stroke="#ff8c1a" stroke-width="1.05"/>
<circle cx="431.7" cy="154.2" r="3.1" fill="none" stroke="#ff8c1a" stroke-width="1.05"/>
<circle cx="434.5" cy="152.8" r="3.1" fill="none" stroke="#ff8c1a" stroke-width="1.05"/>
<circle cx="435.7" cy="147.2" r="3.1" fill="none" stroke="#ff8c1a" stroke-width="1.05"/>
<circle cx="437.9" cy="115.3" r="3.1" fill="none" stroke="#ff8c1a" stroke-width="1.05"/>
<circle cx="439.6" cy="70.2" r="3.1" fill="none" stroke="#ff8c1a" stroke-width="1.05"/>
<rect x="516.1" y="0" width="25.100000000000023" height="17.3" fill="#c9c9fb"/>
<text class="s" x="519.5 529.4" y="13.2" font-size="13.9" font-family="Liberation Sans, sans-serif" fill="#000">UF</text>
<rect x="541.2" y="0" width="106.69999999999993" height="17.3" fill="#d8d8d8"/>
<text class="s" x="585.4 595.5" y="13.2" font-size="13.9" font-family="Liberation Sans, sans-serif" fill="#000">DF</text>
<rect x="647.9" y="0" width="36.10000000000002" height="17.3" fill="#e5e5fd"/>
<text class="s" x="656.8 666.7" y="13.2" font-size="13.9" font-family="Liberation Sans, sans-serif" fill="#000">UF</text>
<text x="473.6" y="15" font-size="16.3" font-weight="bold" font-family="Liberation Sans, sans-serif" fill="#000" stroke="#000" stroke-width="0.3">C</text>
<path d="M516.4 190.5v-6.3M516.4 22.5v6.3" stroke="#8c8c8c" stroke-width="0.7" fill="none"/>
<text x="516.4" y="205" font-size="14.6" text-anchor="middle" font-family="Liberation Serif, serif" fill="#000" stroke="#000" stroke-width="0.2">0</text>
<path d="M556.0 190.5v-6.3M556.0 22.5v6.3" stroke="#8c8c8c" stroke-width="0.7" fill="none"/>
<text x="556.0" y="205" font-size="14.6" text-anchor="middle" font-family="Liberation Serif, serif" fill="#000" stroke="#000" stroke-width="0.2">20</text>
<path d="M595.9 190.5v-6.3M595.9 22.5v6.3" stroke="#8c8c8c" stroke-width="0.7" fill="none"/>
<text x="595.9" y="205" font-size="14.6" text-anchor="middle" font-family="Liberation Serif, serif" fill="#000" stroke="#000" stroke-width="0.2">40</text>
<path d="M635.8 190.5v-6.3M635.8 22.5v6.3" stroke="#8c8c8c" stroke-width="0.7" fill="none"/>
<text x="635.8" y="205" font-size="14.6" text-anchor="middle" font-family="Liberation Serif, serif" fill="#000" stroke="#000" stroke-width="0.2">60</text>
<path d="M675.6 190.5v-6.3M675.6 22.5v6.3" stroke="#8c8c8c" stroke-width="0.7" fill="none"/>
<text x="675.6" y="205" font-size="14.6" text-anchor="middle" font-family="Liberation Serif, serif" fill="#000" stroke="#000" stroke-width="0.2">80</text>
<path d="M516.4 190.4h6.3M683.6 190.4h-6.3" stroke="#8c8c8c" stroke-width="0.7" fill="none"/>
<text x="511.4" y="195.6" font-size="14.6" text-anchor="end" font-family="Liberation Serif, serif" fill="#000" stroke="#000" stroke-width="0.2">0</text>
<path d="M516.4 150.6h6.3M683.6 150.6h-6.3" stroke="#8c8c8c" stroke-width="0.7" fill="none"/>
<text x="511.4" y="155.8" font-size="14.6" text-anchor="end" font-family="Liberation Serif, serif" fill="#000" stroke="#000" stroke-width="0.2">20</text>
<path d="M516.4 111.2h6.3M683.6 111.2h-6.3" stroke="#8c8c8c" stroke-width="0.7" fill="none"/>
<text x="511.4" y="116.4" font-size="14.6" text-anchor="end" font-family="Liberation Serif, serif" fill="#000" stroke="#000" stroke-width="0.2">40</text>
<path d="M516.4 71.8h6.3M683.6 71.8h-6.3" stroke="#8c8c8c" stroke-width="0.7" fill="none"/>
<text x="511.4" y="77.0" font-size="14.6" text-anchor="end" font-family="Liberation Serif, serif" fill="#000" stroke="#000" stroke-width="0.2">60</text>
<path d="M516.4 32.4h6.3M683.6 32.4h-6.3" stroke="#8c8c8c" stroke-width="0.7" fill="none"/>
<text x="511.4" y="37.6" font-size="14.6" text-anchor="end" font-family="Liberation Serif, serif" fill="#000" stroke="#000" stroke-width="0.2">80</text>
<path d="M541.2 22.5V190.5" stroke="#727272" stroke-width="1.3" fill="none"/>
<path d="M648.1 22.5V190.5" stroke="#727272" stroke-width="1.3" fill="none"/>
<rect x="516.4" y="22.5" width="167.20000000000005" height="168.0" fill="none" stroke="#262626" stroke-width="0.9"/>
<g font-family="Liberation Sans, sans-serif" font-size="13.9" fill="#000"><text class="s" x="565.5 574.9 578.1 589.0" y="224.4">Time</text><text x="601.1" y="227.6" font-size="20" font-family="Liberation Serif, serif">/</text><text class="s" x="613.4 625.1 628.3" y="224.4">min</text></g>
<g transform="translate(483.3,0) rotate(-90)" font-family="Liberation Sans, sans-serif" font-size="13.9" fill="#000"><text class="s" x="-173.8 -164.4 -157.0 -149.6 -143.6 -136.6 -128.3 -123.6 -119.2 -111.2 -106.4 -103.4 -96.0" y="0">Concentration</text><text x="-82.7" y="2.9" font-size="20" font-family="Liberation Serif, serif">/</text><text x="-71.4" y="-0.3" font-size="12.6" font-weight="bold" font-family="Liberation Serif, serif">g</text><text class="s" x="-61.3" y="0">L</text><text x="-52.7" y="-5.5" font-size="9.6" textLength="7.8" lengthAdjust="spacingAndGlyphs">−</text><text x="-44.4" y="-5.9" font-size="8.6" stroke="#000" stroke-width="0.25">1</text></g>
<polyline points="516.4,169.0 516.9,168.9 517.4,168.7 518.0,168.6 518.5,168.4 519.0,168.3 519.5,168.1 520.0,167.9 520.5,167.7 521.0,167.5 521.5,167.3 522.1,167.7 522.7,168.2 523.3,168.6 523.9,167.7 524.4,166.7 525.0,165.8 525.5,165.0 526.0,164.2 526.5,163.4 527.0,162.6 527.5,161.5 528.0,160.4 528.5,160.1 529.0,159.7 529.5,158.8 530.0,157.7 530.5,157.4 531.0,156.7 531.5,155.8 532.0,155.8 532.5,154.8 533.0,154.3 533.5,153.4 534.0,152.4 534.5,152.3 535.0,151.7 535.5,150.5 536.0,149.6 536.5,149.6 537.0,148.6 537.5,147.7 538.0,147.4 538.5,147.0 539.0,145.9 539.5,145.5 540.0,145.5 540.5,145.1 541.0,144.2 541.5,144.5 542.0,144.5 542.5,144.2 543.0,143.9 543.5,144.0 544.0,143.4 544.5,143.6 545.0,143.6 545.5,144.3 546.0,143.6 546.5,143.4 547.0,144.2 547.5,144.1 548.0,143.3 548.5,143.7 549.0,143.3 549.5,144.1 550.0,143.2 550.5,144.4 551.0,143.6 551.5,143.7 552.0,144.6 552.5,144.2 553.0,144.1 553.5,144.3 554.0,143.8 554.5,144.4 555.0,144.0 555.5,144.3 556.0,144.2 556.5,144.6 557.0,143.8 557.5,143.8 558.0,144.4 558.5,144.9 559.0,144.4 559.5,144.2 560.0,144.5 560.5,144.0 561.0,144.4 561.5,143.9 562.0,144.5 562.5,144.7 563.0,145.0 563.5,144.4 564.0,144.8 564.5,145.0 565.0,144.3 565.5,144.6 566.0,144.2 566.5,144.5 567.0,144.9 567.5,144.2 568.0,144.8 568.5,145.1 569.0,145.3 569.5,144.2 570.0,145.1 570.5,144.8 571.0,144.4 571.5,144.8 572.0,145.3 572.5,145.1 573.0,145.4 573.5,145.1 574.0,145.4 574.5,145.0 575.0,145.0 575.5,145.3 576.0,144.9 576.5,145.8 577.0,145.4 577.5,145.2 578.0,145.2 578.5,145.2 579.0,145.6 579.5,145.5 580.0,145.9 580.5,145.3 581.0,145.6 581.5,145.3 582.0,145.6 582.5,146.1 583.0,145.7 583.5,146.1 584.0,145.8 584.5,145.6 585.0,145.7 585.5,145.6 586.0,146.1 586.5,146.1 587.0,146.8 587.5,146.5 588.0,146.3 588.5,145.8 589.0,146.2 589.5,145.9 590.0,146.9 590.5,146.0 591.0,146.6 591.5,145.9 592.0,146.5 592.5,146.0 593.0,146.2 593.5,146.4 594.0,146.5 594.5,146.4 595.0,146.5 595.5,146.3 596.0,146.5 596.5,146.5 597.0,146.3 597.5,146.8 598.0,146.7 598.5,146.4 599.0,147.1 599.5,146.5 600.0,146.2 600.5,147.1 601.0,146.7 601.5,147.2 602.0,147.0 602.5,146.6 603.0,147.2 603.5,147.1 604.0,147.2 604.5,147.0 605.0,147.5 605.5,147.3 606.0,147.0 606.5,146.7 607.0,147.1 607.5,147.2 608.0,146.9 608.5,147.1 609.0,147.6 609.5,147.1 610.0,147.6 610.5,147.0 611.0,147.0 611.5,147.6 612.0,147.3 612.5,147.5 613.0,147.7 613.5,147.9 614.0,147.1 614.5,147.7 615.0,147.6 615.5,147.6 616.0,148.1 616.5,147.5 617.0,147.5 617.5,147.8 618.0,147.1 618.5,147.8 619.0,147.5 619.5,147.9 620.0,147.6 620.5,148.0 621.0,147.8 621.5,147.7 622.0,148.1 622.5,148.2 623.0,147.5 623.5,147.6 624.0,147.9 624.5,147.9 625.0,148.5 625.5,148.6 626.0,148.3 626.5,148.5 627.0,148.1 627.5,147.8 628.0,148.3 628.5,147.8 629.0,148.8 629.5,148.4 630.0,148.7 630.5,148.2 631.0,147.9 631.5,148.4 632.0,148.6 632.5,148.4 633.0,148.3 633.5,148.5 634.0,148.5 634.5,149.0 635.0,148.2 635.5,148.0 636.0,148.6 636.5,148.8 637.0,148.3 637.5,148.8 638.0,148.9 638.5,148.9 639.0,148.9 639.5,148.7 640.0,148.5 640.5,149.2 641.0,148.9 641.5,148.6 642.0,149.5 642.5,149.3 643.0,148.4 643.5,149.9 644.0,149.2 644.5,148.7 645.0,149.5 645.5,149.4 646.0,149.7 646.5,149.3 647.1,148.9 647.6,149.4 648.2,149.3 648.8,149.6 649.3,149.5 650.2,143.0 650.8,137.2 651.4,131.5 652.0,125.8 652.6,120.0 653.2,113.0 653.9,106.0 654.5,99.0 655.0,92.2 655.5,85.4 656.0,78.6 656.5,71.8 657.0,65.0 657.6,57.9 658.3,50.9 658.9,43.8" fill="none" stroke="#0000ff" stroke-width="1.8" stroke-linejoin="miter" stroke-miterlimit="10"/>
<polyline points="516.4,168.5 516.7,168.9 516.9,169.7 517.2,169.4 517.4,168.4 517.7,168.2 518.0,168.5 518.2,169.0 518.5,168.8 518.7,168.1 519.0,167.3 519.2,168.2 519.5,167.5 519.8,168.6 520.0,168.7 520.2,168.3 520.5,168.2 520.8,168.1 521.0,168.6 521.2,168.1 521.5,168.1 521.8,166.9 522.0,167.0 522.2,167.1 522.5,166.0 522.8,166.7 523.0,166.7 523.2,166.5 523.5,167.5 523.8,166.2 524.0,166.0 524.2,165.9 524.5,165.7 524.8,165.1 525.0,166.0 525.2,165.4 525.5,165.4 525.8,165.2 526.0,164.7 526.2,163.9 526.5,164.1 526.8,164.0 527.0,163.4 527.2,163.3 527.5,162.3 527.8,162.1 528.0,161.9 528.2,161.4 528.5,161.1 528.8,161.2 529.0,160.0 529.2,159.9 529.5,159.1 529.8,159.2 530.0,158.7 530.2,157.9 530.5,157.4 530.8,156.9 531.0,156.9 531.2,156.7 531.5,156.0 531.8,155.7 532.0,155.4 532.2,156.0 532.5,155.1 532.8,155.2 533.0,153.8 533.2,153.4 533.5,153.8 533.8,152.7 534.0,152.4 534.2,151.5 534.5,151.1 534.8,151.2 535.0,150.2 535.2,149.9 535.5,149.3 535.8,149.8 536.0,149.3 536.2,149.3 536.5,148.4 536.8,147.9 537.0,148.7 537.2,147.9 537.5,148.0 537.8,146.8 538.0,146.5 538.2,145.6 538.5,146.6 538.8,146.6 539.0,146.5 539.2,146.4 539.5,144.5 539.8,144.7 540.0,144.9 540.2,144.6 540.5,144.8 540.8,144.4 541.0,144.0 541.2,144.5 541.5,144.5 541.8,144.0 542.0,144.2 542.2,143.6 542.5,143.9 542.8,143.8 543.0,143.6 543.2,143.7 543.5,143.2 543.8,143.1 544.0,143.2 544.2,143.9 544.5,143.1 544.8,143.0 545.0,144.3 545.2,143.2 545.5,143.1 545.8,142.9 546.0,143.8 546.2,143.5 546.5,143.4 546.8,144.0 547.0,142.8 547.2,142.6 547.5,143.8 547.8,143.5 548.0,143.1 548.2,143.7 548.5,143.4 548.8,144.3 549.0,142.9 549.2,143.6 549.5,143.9 549.8,143.9 550.0,143.4 550.2,143.4 550.5,143.4 550.8,143.9 551.0,143.4 551.2,143.6 551.5,144.1 551.8,143.6 552.0,143.8 552.2,143.7 552.5,143.7 552.8,142.8 553.0,143.3 553.2,143.9 553.5,143.5 553.8,143.5 554.0,143.8 554.2,144.8 554.5,143.5 554.8,143.4 555.0,143.1 555.2,144.1 555.5,143.9 555.8,143.5 556.0,143.7 556.2,144.3 556.5,144.4 556.8,144.1 557.0,144.4 557.2,144.4 557.5,143.8 557.8,144.3 558.0,144.1 558.2,144.3 558.5,144.1 558.8,145.0 559.0,143.5 559.2,144.2 559.5,143.6 559.8,145.1 560.0,143.9 560.2,144.0 560.5,144.1 560.8,144.1 561.0,144.9 561.2,144.2 561.5,144.3 561.8,144.7 562.0,144.9 562.2,143.8 562.5,144.4 562.8,143.7 563.0,144.5 563.2,144.9 563.5,144.1 563.8,144.2 564.0,144.9 564.2,144.5 564.5,144.7 564.8,144.2 565.0,144.3 565.2,144.3 565.5,145.1 565.8,143.8 566.0,144.2 566.2,145.2 566.5,144.5 566.8,144.0 567.0,144.6 567.2,144.4 567.5,144.5 567.8,144.8 568.0,144.9 568.2,143.9 568.5,144.7 568.8,145.3 569.0,144.1 569.2,144.6 569.5,144.2 569.8,145.0 570.0,144.3 570.2,144.6 570.5,144.6 570.8,144.9 571.0,144.2 571.2,144.2 571.5,144.9 571.8,145.4 572.0,144.6 572.2,145.0 572.5,145.0 572.8,144.9 573.0,144.9 573.2,144.7 573.5,144.8 573.8,145.5 574.0,145.1 574.2,145.5 574.5,144.7 574.8,145.0 575.0,144.7 575.2,144.4 575.5,145.4 575.8,144.9 576.0,145.2 576.2,144.5 576.5,145.0 576.8,145.1 577.0,145.0 577.2,145.6 577.5,145.4 577.8,145.2 578.0,145.3 578.2,145.0 578.5,144.9 578.8,145.1 579.0,144.8 579.2,145.2 579.5,145.2 579.8,145.8 580.0,145.1 580.2,146.4 580.5,145.1 580.8,145.4 581.0,145.4 581.2,145.1 581.5,145.4 581.8,144.7 582.0,145.9 582.2,145.2 582.5,145.5 582.8,144.7 583.0,145.8 583.2,145.0 583.5,146.2 583.8,145.1 584.0,145.3 584.2,145.9 584.5,146.2 584.8,144.8 585.0,144.9 585.2,146.4 585.5,145.9 585.8,145.0 586.0,145.5 586.2,146.1 586.5,145.6 586.8,146.4 587.0,145.5 587.2,145.9 587.5,146.3 587.8,146.5 588.0,146.0 588.2,146.1 588.5,145.8 588.8,145.9 589.0,145.7 589.2,146.1 589.5,146.3 589.8,145.5 590.0,145.5 590.2,146.0 590.5,146.9 590.8,146.1 591.0,146.1 591.2,146.0 591.5,145.4 591.8,145.8 592.0,146.8 592.2,145.2 592.5,146.9 592.8,145.6 593.0,147.0 593.2,147.3 593.5,146.8 593.8,146.1 594.0,146.5 594.2,146.0 594.5,146.0 594.8,146.3 595.0,145.1 595.2,146.5 595.5,146.2 595.8,145.8 596.0,146.2 596.2,146.6 596.5,146.0 596.8,146.5 597.0,145.8 597.2,146.4 597.5,145.9 597.8,146.8 598.0,146.0 598.2,146.7 598.5,145.6 598.8,146.5 599.0,147.0 599.2,146.1 599.5,146.5 599.8,146.1 600.0,146.7 600.2,146.9 600.5,147.1 600.8,147.2 601.0,147.1 601.2,146.3 601.5,146.7 601.8,146.9 602.0,146.7 602.2,146.1 602.5,147.5 602.8,147.8 603.0,146.7 603.2,145.6 603.5,147.5 603.8,146.7 604.0,147.7 604.2,146.3 604.5,147.0 604.8,147.1 605.0,146.2 605.2,146.7 605.5,147.0 605.8,147.1 606.0,147.0 606.2,145.8 606.5,145.9 606.8,147.1 607.0,147.6 607.2,146.3 607.5,147.1 607.8,147.4 608.0,146.6 608.2,146.3 608.5,147.1 608.8,146.8 609.0,147.0 609.2,147.0 609.5,147.0 609.8,147.2 610.0,146.9 610.2,147.1 610.5,146.9 610.8,146.8 611.0,147.3 611.2,146.8 611.5,147.4 611.8,147.2 612.0,147.7 612.2,147.5 612.5,146.4 612.8,147.3 613.0,147.6 613.2,147.3 613.5,147.3 613.8,147.8 614.0,147.6 614.2,146.8 614.5,147.4 614.8,147.8 615.0,147.5 615.2,146.8 615.5,147.8 615.8,147.7 616.0,148.0 616.2,147.6 616.5,147.5 616.8,147.9 617.0,147.0 617.2,148.3 617.5,147.7 617.8,147.7 618.0,147.9 618.2,147.9 618.5,146.7 618.8,148.0 619.0,147.6 619.2,147.3 619.5,148.1 619.8,148.1 620.0,147.9 620.2,147.4 620.5,147.8 620.8,147.3 621.0,148.8 621.2,147.5 621.5,148.1 621.8,148.5 622.0,147.4 622.2,147.6 622.5,146.8 622.8,147.7 623.0,147.3 623.2,147.9 623.5,147.8 623.8,147.9 624.0,147.9 624.2,147.7 624.5,148.0 624.8,147.9 625.0,147.6 625.2,147.8 625.5,147.7 625.8,147.4 626.0,148.0 626.2,147.2 626.5,148.2 626.8,148.0 627.0,148.1 627.2,148.6 627.5,148.5 627.8,147.9 628.0,148.2 628.2,148.6 628.5,148.0 628.8,148.3 629.0,148.3 629.2,147.7 629.5,148.3 629.8,148.0 630.0,148.0 630.2,148.4 630.5,148.5 630.8,147.8 631.0,148.1 631.2,148.1 631.5,147.8 631.8,148.4 632.0,148.2 632.2,148.0 632.5,148.7 632.8,148.3 633.0,147.8 633.2,148.3 633.5,148.2 633.8,148.5 634.0,149.3 634.2,148.6 634.5,149.0 634.8,148.3 635.0,148.6 635.2,148.6 635.5,148.4 635.8,148.6 636.0,148.3 636.2,148.8 636.5,148.1 636.8,149.3 637.0,147.4 637.2,147.9 637.5,148.5 637.8,148.8 638.0,148.7 638.2,147.9 638.5,148.8 638.8,148.3 639.0,148.8 639.2,148.5 639.5,148.6 639.8,148.1 640.0,148.2 640.2,148.5 640.5,148.3 640.8,148.9 641.0,148.2 641.2,149.0 641.5,149.1 641.8,148.6 642.0,148.5 642.2,148.8 642.5,149.3 642.8,149.6 643.0,149.9 643.2,149.0 643.5,149.3 643.8,149.1 644.0,149.0 644.2,148.6 644.5,148.9 644.8,149.6 645.0,149.7 645.2,148.9 645.5,148.5 645.8,150.0 646.0,149.2 646.3,149.4 646.5,149.2 646.8,148.5 647.0,149.4 647.3,148.9 647.5,149.2 647.8,149.1 648.0,149.3 648.3,150.5 648.5,150.1 648.8,148.6 649.0,149.5 649.3,149.5 649.6,147.3 649.9,145.2 650.2,143.0 650.5,140.4 650.7,137.9 651.0,135.3 651.3,132.8 651.5,130.2 651.8,127.7 652.1,125.1 652.3,122.6 652.6,120.0 652.9,117.0 653.1,114.0 653.4,111.0 653.7,108.0 654.0,105.0 654.2,102.0 654.5,99.0 654.8,95.6 655.0,92.2 655.2,88.8 655.5,85.4 655.8,82.0 656.0,78.6 656.2,75.2 656.5,71.8 656.8,68.4 657.0,65.0 657.3,62.0 657.5,59.0 657.8,56.0 658.0,53.0 658.3,50.0 658.5,47.0 658.8,44.0 658.6,37.4" fill="none" stroke="#008080" stroke-opacity="0.5" stroke-width="1.1" stroke-linejoin="miter" stroke-miterlimit="10"/>
<path d="M520.9 168.2L522.2 171.5L523.4 176.8L524.1 171L524.9 166.8Z" fill="#008080" fill-opacity="0.5"/>
<path d="M535.8 150.6L536 160.8L536.9 157.5L537.6 161.4L538.5 159.8L539.1 152L539.3 146Z" fill="#008080" fill-opacity="0.5"/>
<circle cx="515.9" cy="167.9" r="3.1" fill="none" stroke="#ff8c1a" stroke-width="1.05"/>
<circle cx="531.7" cy="155.7" r="3.1" fill="none" stroke="#ff8c1a" stroke-width="1.05"/>
<circle cx="535.6" cy="149.2" r="3.1" fill="none" stroke="#ff8c1a" stroke-width="1.05"/>
<circle cx="540.2" cy="144.2" r="3.1" fill="none" stroke="#ff8c1a" stroke-width="1.05"/>
<circle cx="546.5" cy="143.8" r="3.1" fill="none" stroke="#ff8c1a" stroke-width="1.05"/>
<circle cx="559.3" cy="143.8" r="3.1" fill="none" stroke="#ff8c1a" stroke-width="1.05"/>
<circle cx="584.6" cy="144.2" r="3.1" fill="none" stroke="#ff8c1a" stroke-width="1.05"/>
<circle cx="591" cy="144.4" r="3.1" fill="none" stroke="#ff8c1a" stroke-width="1.05"/>
<circle cx="598.9" cy="144.7" r="3.1" fill="none" stroke="#ff8c1a" stroke-width="1.05"/>
<circle cx="609.6" cy="145.2" r="3.1" fill="none" stroke="#ff8c1a" stroke-width="1.05"/>
<circle cx="620.4" cy="145.6" r="3.1" fill="none" stroke="#ff8c1a" stroke-width="1.05"/>
<circle cx="630.3" cy="146" r="3.1" fill="none" stroke="#ff8c1a" stroke-width="1.05"/>
<circle cx="640.7" cy="146.4" r="3.1" fill="none" stroke="#ff8c1a" stroke-width="1.05"/>
<circle cx="653.1" cy="132.7" r="3.1" fill="none" stroke="#ff8c1a" stroke-width="1.05"/>
<circle cx="654" cy="99.6" r="3.1" fill="none" stroke="#ff8c1a" stroke-width="1.05"/>
<circle cx="657" cy="65.2" r="3.1" fill="none" stroke="#ff8c1a" stroke-width="1.05"/>
<path d="M137.8 245.8H165.4" stroke="#0000ff" stroke-width="1.9"/>
<text class="s" x="184.7 193.2 196.3 203.7 213.9 223.3 232.3" y="250.4" font-size="13.9" font-family="Liberation Sans, sans-serif" fill="#000">FlowVPE</text>
<circle cx="263" cy="245.7" r="3.1" fill="none" stroke="#ff8c1a" stroke-width="1.05"/>
<text class="s" x="284.4 292.0 296.2 300.4 303.8 307.0 314.0 321.5 325.5 332.7 340.0 347.5 350.7 358.2 362.9 365.9" y="250.4" font-size="13.9" font-family="Liberation Sans, sans-serif" fill="#000">offline analytic</text>
<path d="M392.2 245.8H419.8" stroke="#008080" stroke-opacity="0.55" stroke-width="1.3"/>
<text class="s" x="438.5 447.8 455.1 466.3 473.5 481.6 485.8 493.6 497.8 504.7 512.5 515.6 522.9 527.7 530.7 538.1" y="250.4" font-size="13.9" font-family="Liberation Sans, sans-serif" fill="#000">Raman prediction</text>
</g>
</svg>
</body></html>
